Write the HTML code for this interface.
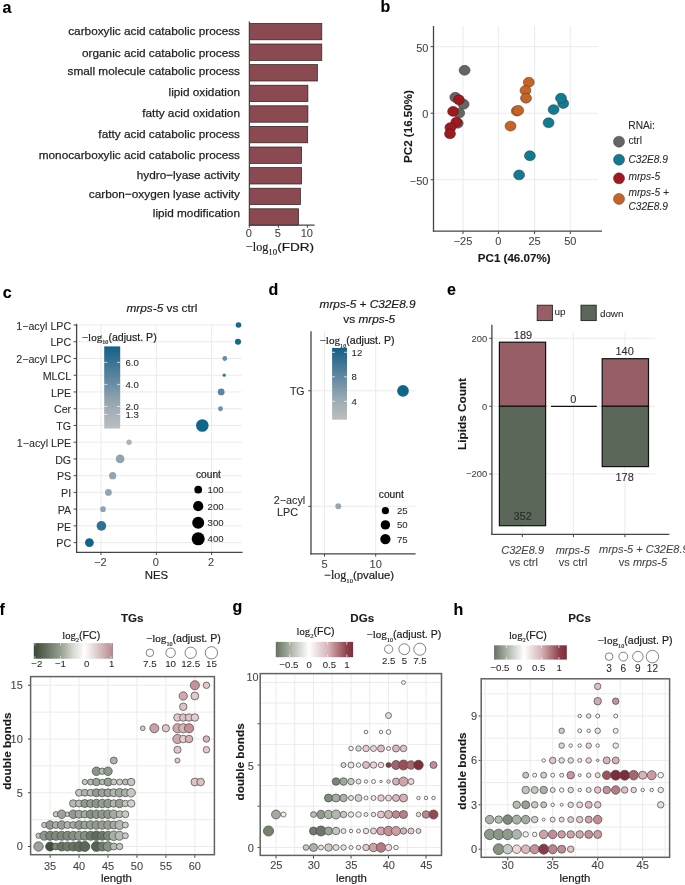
<!DOCTYPE html>
<html><head><meta charset="utf-8"><title>Figure</title>
<style>html,body{margin:0;padding:0;background:#fff;}body{width:685px;height:885px;overflow:hidden;}
svg{display:block;font-family:"Liberation Sans",sans-serif;will-change:transform;}</style></head>
<body><svg width="685" height="885" viewBox="0 0 685 885">
<rect x="0" y="0" width="685" height="885" fill="#ffffff"/>
<text x="2.60" y="13.00" font-size="16" fill="#000000" stroke="#000000" stroke-width="0.12" font-weight="bold">a</text>
<text x="380.60" y="12.40" font-size="16" fill="#000000" stroke="#000000" stroke-width="0.12" font-weight="bold">b</text>
<text x="2.70" y="298.00" font-size="16" fill="#000000" stroke="#000000" stroke-width="0.12" font-weight="bold">c</text>
<text x="268.60" y="294.80" font-size="16" fill="#000000" stroke="#000000" stroke-width="0.12" font-weight="bold">d</text>
<text x="447.00" y="295.10" font-size="16" fill="#000000" stroke="#000000" stroke-width="0.12" font-weight="bold">e</text>
<text x="-0.60" y="614.90" font-size="16" fill="#000000" stroke="#000000" stroke-width="0.12" font-weight="bold">f</text>
<text x="232.40" y="611.70" font-size="16" fill="#000000" stroke="#000000" stroke-width="0.12" font-weight="bold">g</text>
<text x="453.40" y="614.90" font-size="16" fill="#000000" stroke="#000000" stroke-width="0.12" font-weight="bold">h</text>
<text x="240.00" y="35.00" font-size="11.8" fill="#1e1e1e" stroke="#1e1e1e" stroke-width="0.25" text-anchor="end">carboxylic acid catabolic process</text>
<text x="240.00" y="57.30" font-size="11.8" fill="#1e1e1e" stroke="#1e1e1e" stroke-width="0.25" text-anchor="end">organic acid catabolic process</text>
<text x="240.00" y="75.10" font-size="11.8" fill="#1e1e1e" stroke="#1e1e1e" stroke-width="0.25" text-anchor="end">small molecule catabolic process</text>
<text x="240.00" y="95.70" font-size="11.8" fill="#1e1e1e" stroke="#1e1e1e" stroke-width="0.25" text-anchor="end">lipid oxidation</text>
<text x="240.00" y="117.10" font-size="11.8" fill="#1e1e1e" stroke="#1e1e1e" stroke-width="0.25" text-anchor="end">fatty acid oxidation</text>
<text x="240.00" y="138.40" font-size="11.8" fill="#1e1e1e" stroke="#1e1e1e" stroke-width="0.25" text-anchor="end">fatty acid catabolic process</text>
<text x="240.00" y="159.20" font-size="11.8" fill="#1e1e1e" stroke="#1e1e1e" stroke-width="0.25" text-anchor="end">monocarboxylic acid catabolic process</text>
<text x="240.00" y="178.60" font-size="11.8" fill="#1e1e1e" stroke="#1e1e1e" stroke-width="0.25" text-anchor="end">hydro−lyase activity</text>
<text x="240.00" y="197.50" font-size="11.8" fill="#1e1e1e" stroke="#1e1e1e" stroke-width="0.25" text-anchor="end">carbon−oxygen lyase activity</text>
<text x="240.00" y="217.20" font-size="11.8" fill="#1e1e1e" stroke="#1e1e1e" stroke-width="0.25" text-anchor="end">lipid modification</text>
<rect x="249.60" y="23.40" width="72.20" height="16.40" fill="#8b4a51" stroke="#2e1a1c" stroke-width="0.7"/>
<rect x="249.60" y="44.00" width="72.20" height="16.40" fill="#8b4a51" stroke="#2e1a1c" stroke-width="0.7"/>
<rect x="249.60" y="64.60" width="67.80" height="16.40" fill="#8b4a51" stroke="#2e1a1c" stroke-width="0.7"/>
<rect x="249.60" y="85.20" width="58.30" height="16.40" fill="#8b4a51" stroke="#2e1a1c" stroke-width="0.7"/>
<rect x="249.60" y="105.80" width="58.30" height="16.40" fill="#8b4a51" stroke="#2e1a1c" stroke-width="0.7"/>
<rect x="249.60" y="126.40" width="58.10" height="16.40" fill="#8b4a51" stroke="#2e1a1c" stroke-width="0.7"/>
<rect x="249.60" y="147.00" width="52.00" height="16.40" fill="#8b4a51" stroke="#2e1a1c" stroke-width="0.7"/>
<rect x="249.60" y="167.60" width="52.00" height="16.40" fill="#8b4a51" stroke="#2e1a1c" stroke-width="0.7"/>
<rect x="249.60" y="188.20" width="50.80" height="16.40" fill="#8b4a51" stroke="#2e1a1c" stroke-width="0.7"/>
<rect x="249.60" y="208.80" width="49.00" height="16.40" fill="#8b4a51" stroke="#2e1a1c" stroke-width="0.7"/>
<line x1="249.40" y1="21.50" x2="249.40" y2="225.70" stroke="#454545" stroke-width="1.3"/>
<line x1="248.80" y1="225.10" x2="314.60" y2="225.10" stroke="#454545" stroke-width="1.3"/>
<line x1="249.40" y1="225.10" x2="249.40" y2="227.80" stroke="#454545" stroke-width="1.0"/>
<text x="248.80" y="237.40" font-size="11" fill="#444444" stroke="#444444" stroke-width="0.08" text-anchor="middle">0</text>
<line x1="278.40" y1="225.10" x2="278.40" y2="227.80" stroke="#454545" stroke-width="1.0"/>
<text x="277.80" y="237.40" font-size="11" fill="#444444" stroke="#444444" stroke-width="0.08" text-anchor="middle">5</text>
<line x1="307.40" y1="225.10" x2="307.40" y2="227.80" stroke="#454545" stroke-width="1.0"/>
<text x="306.80" y="237.40" font-size="11" fill="#444444" stroke="#444444" stroke-width="0.08" text-anchor="middle">10</text>
<text x="245.90" y="250.80" font-size="11.0" fill="#1a1a1a" stroke="#1a1a1a" stroke-width="0.18"><tspan font-family="Liberation Serif" font-size="12.20">−log</tspan><tspan font-family="Liberation Serif" font-size="8.80" dy="3.90">10</tspan><tspan dy="-3.90" textLength="37.0" lengthAdjust="spacingAndGlyphs">(FDR)</tspan></text>
<line x1="434.00" y1="46.65" x2="598.10" y2="46.65" stroke="#ebebeb" stroke-width="1.0"/>
<line x1="434.00" y1="113.20" x2="598.10" y2="113.20" stroke="#ebebeb" stroke-width="1.0"/>
<line x1="434.00" y1="179.75" x2="598.10" y2="179.75" stroke="#ebebeb" stroke-width="1.0"/>
<line x1="463.00" y1="26.00" x2="463.00" y2="230.40" stroke="#ebebeb" stroke-width="1.0"/>
<line x1="498.40" y1="26.00" x2="498.40" y2="230.40" stroke="#ebebeb" stroke-width="1.0"/>
<line x1="534.60" y1="26.00" x2="534.60" y2="230.40" stroke="#ebebeb" stroke-width="1.0"/>
<line x1="570.30" y1="26.00" x2="570.30" y2="230.40" stroke="#ebebeb" stroke-width="1.0"/>
<line x1="433.50" y1="26.00" x2="433.50" y2="231.80" stroke="#454545" stroke-width="1.3"/>
<line x1="432.90" y1="231.20" x2="602.00" y2="231.20" stroke="#454545" stroke-width="1.3"/>
<line x1="430.60" y1="46.65" x2="433.40" y2="46.65" stroke="#454545" stroke-width="1.0"/>
<text x="428.40" y="51.55" font-size="11" fill="#444444" stroke="#444444" stroke-width="0.08" text-anchor="end">50</text>
<line x1="430.60" y1="113.20" x2="433.40" y2="113.20" stroke="#454545" stroke-width="1.0"/>
<text x="428.40" y="118.10" font-size="11" fill="#444444" stroke="#444444" stroke-width="0.08" text-anchor="end">0</text>
<line x1="430.60" y1="179.75" x2="433.40" y2="179.75" stroke="#454545" stroke-width="1.0"/>
<text x="428.40" y="184.65" font-size="11" fill="#444444" stroke="#444444" stroke-width="0.08" text-anchor="end">−50</text>
<line x1="463.00" y1="231.20" x2="463.00" y2="234.00" stroke="#454545" stroke-width="1.0"/>
<text x="463.00" y="244.70" font-size="11" fill="#444444" stroke="#444444" stroke-width="0.08" text-anchor="middle">−25</text>
<line x1="498.40" y1="231.20" x2="498.40" y2="234.00" stroke="#454545" stroke-width="1.0"/>
<text x="498.40" y="244.70" font-size="11" fill="#444444" stroke="#444444" stroke-width="0.08" text-anchor="middle">0</text>
<line x1="534.60" y1="231.20" x2="534.60" y2="234.00" stroke="#454545" stroke-width="1.0"/>
<text x="534.60" y="244.70" font-size="11" fill="#444444" stroke="#444444" stroke-width="0.08" text-anchor="middle">25</text>
<line x1="570.30" y1="231.20" x2="570.30" y2="234.00" stroke="#454545" stroke-width="1.0"/>
<text x="570.30" y="244.70" font-size="11" fill="#444444" stroke="#444444" stroke-width="0.08" text-anchor="middle">50</text>
<text x="514.20" y="261.90" font-size="11.6" fill="#1a1a1a" stroke="#1a1a1a" stroke-width="0.12" text-anchor="middle" font-weight="bold">PC1 (46.07%)</text>
<text x="412.30" y="126.50" font-size="11.6" fill="#1a1a1a" stroke="#1a1a1a" stroke-width="0.12" text-anchor="middle" font-weight="bold" transform="rotate(-90 412.30 126.50)">PC2 (16.50%)</text>
<ellipse cx="464.60" cy="70.30" rx="5.45" ry="4.95" fill="#646664" stroke="#3a3a3a" stroke-width="0.55"/>
<ellipse cx="455.30" cy="97.30" rx="5.45" ry="4.95" fill="#646664" stroke="#3a3a3a" stroke-width="0.55"/>
<ellipse cx="463.60" cy="104.30" rx="5.45" ry="4.95" fill="#646664" stroke="#3a3a3a" stroke-width="0.55"/>
<ellipse cx="459.20" cy="113.10" rx="5.45" ry="4.95" fill="#646664" stroke="#3a3a3a" stroke-width="0.55"/>
<ellipse cx="457.70" cy="123.30" rx="5.45" ry="4.95" fill="#646664" stroke="#3a3a3a" stroke-width="0.55"/>
<ellipse cx="458.90" cy="99.80" rx="5.45" ry="4.95" fill="#a0191f" stroke="#4a1a1c" stroke-width="0.55"/>
<ellipse cx="453.10" cy="111.40" rx="5.45" ry="4.95" fill="#a0191f" stroke="#4a1a1c" stroke-width="0.55"/>
<ellipse cx="456.30" cy="122.20" rx="5.45" ry="4.95" fill="#a0191f" stroke="#4a1a1c" stroke-width="0.55"/>
<ellipse cx="450.40" cy="127.60" rx="5.45" ry="4.95" fill="#a0191f" stroke="#4a1a1c" stroke-width="0.55"/>
<ellipse cx="450.00" cy="133.80" rx="5.45" ry="4.95" fill="#a0191f" stroke="#4a1a1c" stroke-width="0.55"/>
<ellipse cx="528.80" cy="82.30" rx="5.45" ry="4.95" fill="#c46426" stroke="#5a3a28" stroke-width="0.55"/>
<ellipse cx="525.50" cy="90.40" rx="5.45" ry="4.95" fill="#c46426" stroke="#5a3a28" stroke-width="0.55"/>
<ellipse cx="526.00" cy="98.20" rx="5.45" ry="4.95" fill="#c46426" stroke="#5a3a28" stroke-width="0.55"/>
<ellipse cx="516.80" cy="111.10" rx="5.45" ry="4.95" fill="#c46426" stroke="#5a3a28" stroke-width="0.55"/>
<ellipse cx="518.20" cy="110.40" rx="5.45" ry="4.95" fill="#c46426" stroke="#5a3a28" stroke-width="0.55"/>
<ellipse cx="510.50" cy="126.10" rx="5.45" ry="4.95" fill="#c46426" stroke="#5a3a28" stroke-width="0.55"/>
<ellipse cx="563.20" cy="103.50" rx="5.45" ry="4.95" fill="#137a94" stroke="#2e3f44" stroke-width="0.55"/>
<ellipse cx="561.00" cy="98.20" rx="5.45" ry="4.95" fill="#137a94" stroke="#2e3f44" stroke-width="0.55"/>
<ellipse cx="553.60" cy="109.60" rx="5.45" ry="4.95" fill="#137a94" stroke="#2e3f44" stroke-width="0.55"/>
<ellipse cx="548.60" cy="122.80" rx="5.45" ry="4.95" fill="#137a94" stroke="#2e3f44" stroke-width="0.55"/>
<ellipse cx="529.90" cy="155.80" rx="5.45" ry="4.95" fill="#137a94" stroke="#2e3f44" stroke-width="0.55"/>
<ellipse cx="519.10" cy="174.90" rx="5.45" ry="4.95" fill="#137a94" stroke="#2e3f44" stroke-width="0.55"/>
<text x="628.30" y="128.90" font-size="10.2" fill="#2a2a2a" stroke="#2a2a2a" stroke-width="0.08">RNAi:</text>
<circle cx="619.00" cy="141.70" r="5.50" fill="#646664" stroke="#3a3a3a" stroke-width="0.5"/>
<circle cx="619.00" cy="159.70" r="5.50" fill="#137a94" stroke="#2e3f44" stroke-width="0.5"/>
<circle cx="619.00" cy="178.30" r="5.50" fill="#a0191f" stroke="#4a1a1c" stroke-width="0.5"/>
<circle cx="619.00" cy="198.90" r="5.50" fill="#c46426" stroke="#5a3a28" stroke-width="0.5"/>
<text x="628.40" y="143.80" font-size="10.2" fill="#2a2a2a" stroke="#2a2a2a" stroke-width="0.08">ctrl</text>
<text x="628.40" y="162.60" font-size="10.2" fill="#2a2a2a" stroke="#2a2a2a" stroke-width="0.08" font-style="italic">C32E8.9</text>
<text x="628.40" y="180.20" font-size="10.2" fill="#2a2a2a" stroke="#2a2a2a" stroke-width="0.08" font-style="italic">mrps-5</text>
<text x="628.40" y="196.40" font-size="10.2" fill="#2a2a2a" stroke="#2a2a2a" stroke-width="0.08" font-style="italic">mrps-5 +</text>
<text x="628.40" y="209.70" font-size="10.2" fill="#2a2a2a" stroke="#2a2a2a" stroke-width="0.08" font-style="italic">C32E8.9</text>
<line x1="77.00" y1="325.00" x2="241.80" y2="325.00" stroke="#ebebeb" stroke-width="1.0"/>
<line x1="77.00" y1="341.74" x2="241.80" y2="341.74" stroke="#ebebeb" stroke-width="1.0"/>
<line x1="77.00" y1="358.48" x2="241.80" y2="358.48" stroke="#ebebeb" stroke-width="1.0"/>
<line x1="77.00" y1="375.22" x2="241.80" y2="375.22" stroke="#ebebeb" stroke-width="1.0"/>
<line x1="77.00" y1="391.96" x2="241.80" y2="391.96" stroke="#ebebeb" stroke-width="1.0"/>
<line x1="77.00" y1="408.70" x2="241.80" y2="408.70" stroke="#ebebeb" stroke-width="1.0"/>
<line x1="77.00" y1="425.44" x2="241.80" y2="425.44" stroke="#ebebeb" stroke-width="1.0"/>
<line x1="77.00" y1="442.18" x2="241.80" y2="442.18" stroke="#ebebeb" stroke-width="1.0"/>
<line x1="77.00" y1="458.92" x2="241.80" y2="458.92" stroke="#ebebeb" stroke-width="1.0"/>
<line x1="77.00" y1="475.66" x2="241.80" y2="475.66" stroke="#ebebeb" stroke-width="1.0"/>
<line x1="77.00" y1="492.40" x2="241.80" y2="492.40" stroke="#ebebeb" stroke-width="1.0"/>
<line x1="77.00" y1="509.14" x2="241.80" y2="509.14" stroke="#ebebeb" stroke-width="1.0"/>
<line x1="77.00" y1="525.88" x2="241.80" y2="525.88" stroke="#ebebeb" stroke-width="1.0"/>
<line x1="77.00" y1="542.62" x2="241.80" y2="542.62" stroke="#ebebeb" stroke-width="1.0"/>
<line x1="101.00" y1="323.80" x2="101.00" y2="551.60" stroke="#ebebeb" stroke-width="1.0"/>
<line x1="156.40" y1="323.80" x2="156.40" y2="551.60" stroke="#ebebeb" stroke-width="1.0"/>
<line x1="211.60" y1="323.80" x2="211.60" y2="551.60" stroke="#ebebeb" stroke-width="1.0"/>
<line x1="76.60" y1="323.80" x2="76.60" y2="552.90" stroke="#454545" stroke-width="1.3"/>
<line x1="76.00" y1="552.30" x2="242.50" y2="552.30" stroke="#454545" stroke-width="1.3"/>
<line x1="73.60" y1="325.00" x2="76.40" y2="325.00" stroke="#454545" stroke-width="1.0"/>
<text x="71.20" y="329.70" font-size="10.7" fill="#2a2a2a" stroke="#2a2a2a" stroke-width="0.08" text-anchor="end">1−acyl LPC</text>
<line x1="73.60" y1="341.74" x2="76.40" y2="341.74" stroke="#454545" stroke-width="1.0"/>
<text x="71.20" y="346.44" font-size="10.7" fill="#2a2a2a" stroke="#2a2a2a" stroke-width="0.08" text-anchor="end">LPC</text>
<line x1="73.60" y1="358.48" x2="76.40" y2="358.48" stroke="#454545" stroke-width="1.0"/>
<text x="71.20" y="363.18" font-size="10.7" fill="#2a2a2a" stroke="#2a2a2a" stroke-width="0.08" text-anchor="end">2−acyl LPC</text>
<line x1="73.60" y1="375.22" x2="76.40" y2="375.22" stroke="#454545" stroke-width="1.0"/>
<text x="71.20" y="379.92" font-size="10.7" fill="#2a2a2a" stroke="#2a2a2a" stroke-width="0.08" text-anchor="end">MLCL</text>
<line x1="73.60" y1="391.96" x2="76.40" y2="391.96" stroke="#454545" stroke-width="1.0"/>
<text x="71.20" y="396.66" font-size="10.7" fill="#2a2a2a" stroke="#2a2a2a" stroke-width="0.08" text-anchor="end">LPE</text>
<line x1="73.60" y1="408.70" x2="76.40" y2="408.70" stroke="#454545" stroke-width="1.0"/>
<text x="71.20" y="413.40" font-size="10.7" fill="#2a2a2a" stroke="#2a2a2a" stroke-width="0.08" text-anchor="end">Cer</text>
<line x1="73.60" y1="425.44" x2="76.40" y2="425.44" stroke="#454545" stroke-width="1.0"/>
<text x="71.20" y="430.14" font-size="10.7" fill="#2a2a2a" stroke="#2a2a2a" stroke-width="0.08" text-anchor="end">TG</text>
<line x1="73.60" y1="442.18" x2="76.40" y2="442.18" stroke="#454545" stroke-width="1.0"/>
<text x="71.20" y="446.88" font-size="10.7" fill="#2a2a2a" stroke="#2a2a2a" stroke-width="0.08" text-anchor="end">1−acyl LPE</text>
<line x1="73.60" y1="458.92" x2="76.40" y2="458.92" stroke="#454545" stroke-width="1.0"/>
<text x="71.20" y="463.62" font-size="10.7" fill="#2a2a2a" stroke="#2a2a2a" stroke-width="0.08" text-anchor="end">DG</text>
<line x1="73.60" y1="475.66" x2="76.40" y2="475.66" stroke="#454545" stroke-width="1.0"/>
<text x="71.20" y="480.36" font-size="10.7" fill="#2a2a2a" stroke="#2a2a2a" stroke-width="0.08" text-anchor="end">PS</text>
<line x1="73.60" y1="492.40" x2="76.40" y2="492.40" stroke="#454545" stroke-width="1.0"/>
<text x="71.20" y="497.10" font-size="10.7" fill="#2a2a2a" stroke="#2a2a2a" stroke-width="0.08" text-anchor="end">PI</text>
<line x1="73.60" y1="509.14" x2="76.40" y2="509.14" stroke="#454545" stroke-width="1.0"/>
<text x="71.20" y="513.84" font-size="10.7" fill="#2a2a2a" stroke="#2a2a2a" stroke-width="0.08" text-anchor="end">PA</text>
<line x1="73.60" y1="525.88" x2="76.40" y2="525.88" stroke="#454545" stroke-width="1.0"/>
<text x="71.20" y="530.58" font-size="10.7" fill="#2a2a2a" stroke="#2a2a2a" stroke-width="0.08" text-anchor="end">PE</text>
<line x1="73.60" y1="542.62" x2="76.40" y2="542.62" stroke="#454545" stroke-width="1.0"/>
<text x="71.20" y="547.32" font-size="10.7" fill="#2a2a2a" stroke="#2a2a2a" stroke-width="0.08" text-anchor="end">PC</text>
<line x1="101.00" y1="552.20" x2="101.00" y2="555.00" stroke="#454545" stroke-width="1.0"/>
<text x="100.40" y="566.10" font-size="11" fill="#444444" stroke="#444444" stroke-width="0.08" text-anchor="middle">−2</text>
<line x1="156.40" y1="552.20" x2="156.40" y2="555.00" stroke="#454545" stroke-width="1.0"/>
<text x="155.80" y="566.10" font-size="11" fill="#444444" stroke="#444444" stroke-width="0.08" text-anchor="middle">0</text>
<line x1="211.60" y1="552.20" x2="211.60" y2="555.00" stroke="#454545" stroke-width="1.0"/>
<text x="211.00" y="566.10" font-size="11" fill="#444444" stroke="#444444" stroke-width="0.08" text-anchor="middle">2</text>
<text x="156.40" y="579.30" font-size="11.4" fill="#1a1a1a" stroke="#1a1a1a" stroke-width="0.18" text-anchor="middle">NES</text>
<text x="161.9" y="311.8" font-size="11.8" fill="#1a1a1a" stroke="#1a1a1a" stroke-width="0.18" text-anchor="middle"><tspan font-style="italic">mrps-5</tspan> vs ctrl</text>
<circle cx="238.50" cy="325.00" r="2.80" fill="#16688c"/>
<circle cx="238.00" cy="341.74" r="3.05" fill="#16688c"/>
<circle cx="224.80" cy="358.48" r="2.40" fill="#658da6"/>
<circle cx="224.20" cy="375.22" r="1.65" fill="#367698"/>
<circle cx="221.20" cy="391.96" r="3.40" fill="#5886a3"/>
<circle cx="220.50" cy="408.70" r="2.45" fill="#6f92a8"/>
<circle cx="202.30" cy="425.44" r="6.30" fill="#10658a"/>
<circle cx="129.10" cy="442.18" r="2.70" fill="#adb4b9"/>
<circle cx="120.10" cy="458.92" r="4.35" fill="#93a4b1"/>
<circle cx="112.70" cy="475.66" r="3.60" fill="#93a4b1"/>
<circle cx="108.40" cy="492.40" r="3.40" fill="#93a4b1"/>
<circle cx="103.00" cy="509.14" r="2.85" fill="#90a3b0"/>
<circle cx="101.40" cy="525.88" r="4.80" fill="#2c7294"/>
<circle cx="89.40" cy="542.62" r="4.40" fill="#10658a"/>
<defs><linearGradient id="gc" x1="0" y1="1" x2="0" y2="0"><stop offset="0" stop-color="#bebebe"/><stop offset="0.3" stop-color="#98a8b2"/><stop offset="0.6" stop-color="#5f88a1"/><stop offset="1" stop-color="#155f85"/></linearGradient><linearGradient id="gd" x1="0" y1="1" x2="0" y2="0"><stop offset="0" stop-color="#bebebe"/><stop offset="0.3" stop-color="#98a8b2"/><stop offset="0.6" stop-color="#5f88a1"/><stop offset="1" stop-color="#155f85"/></linearGradient></defs>
<rect x="104.20" y="346.40" width="16.00" height="82.10" fill="url(#gc)"/>
<line x1="104.20" y1="362.40" x2="107.40" y2="362.40" stroke="#ffffff" stroke-width="0.7"/>
<line x1="117.00" y1="362.40" x2="120.20" y2="362.40" stroke="#ffffff" stroke-width="0.7"/>
<text x="125.40" y="365.80" font-size="9.6" fill="#2a2a2a" stroke="#2a2a2a" stroke-width="0.08">6.0</text>
<line x1="104.20" y1="384.40" x2="107.40" y2="384.40" stroke="#ffffff" stroke-width="0.7"/>
<line x1="117.00" y1="384.40" x2="120.20" y2="384.40" stroke="#ffffff" stroke-width="0.7"/>
<text x="125.40" y="387.80" font-size="9.6" fill="#2a2a2a" stroke="#2a2a2a" stroke-width="0.08">4.0</text>
<line x1="104.20" y1="406.50" x2="107.40" y2="406.50" stroke="#ffffff" stroke-width="0.7"/>
<line x1="117.00" y1="406.50" x2="120.20" y2="406.50" stroke="#ffffff" stroke-width="0.7"/>
<text x="125.40" y="409.90" font-size="9.6" fill="#2a2a2a" stroke="#2a2a2a" stroke-width="0.08">2.0</text>
<line x1="104.20" y1="414.40" x2="107.40" y2="414.40" stroke="#ffffff" stroke-width="0.7"/>
<line x1="117.00" y1="414.40" x2="120.20" y2="414.40" stroke="#ffffff" stroke-width="0.7"/>
<text x="125.40" y="417.80" font-size="9.6" fill="#2a2a2a" stroke="#2a2a2a" stroke-width="0.08">1.3</text>
<text x="81.80" y="340.50" font-size="10.6" fill="#1a1a1a" stroke="#1a1a1a" stroke-width="0.18"><tspan font-family="Liberation Serif" font-size="11.13">−log</tspan><tspan font-family="Liberation Serif" font-size="6.15" dy="3.50">10</tspan><tspan dy="-3.50">(adjust. P)</tspan></text>
<text x="196.00" y="477.80" font-size="10.2" fill="#1a1a1a" stroke="#1a1a1a" stroke-width="0.18">count</text>
<circle cx="198.20" cy="489.70" r="3.85" fill="#000000"/>
<text x="207.60" y="493.10" font-size="9.6" fill="#2a2a2a" stroke="#2a2a2a" stroke-width="0.08">100</text>
<circle cx="198.20" cy="506.20" r="5.10" fill="#000000"/>
<text x="207.60" y="509.60" font-size="9.6" fill="#2a2a2a" stroke="#2a2a2a" stroke-width="0.08">200</text>
<circle cx="198.20" cy="522.70" r="6.00" fill="#000000"/>
<text x="207.60" y="526.10" font-size="9.6" fill="#2a2a2a" stroke="#2a2a2a" stroke-width="0.08">300</text>
<circle cx="198.20" cy="538.80" r="6.55" fill="#000000"/>
<text x="207.60" y="542.20" font-size="9.6" fill="#2a2a2a" stroke="#2a2a2a" stroke-width="0.08">400</text>
<text x="367.6" y="308.4" font-size="11.8" fill="#1a1a1a" stroke="#1a1a1a" stroke-width="0.18" text-anchor="middle" font-style="italic">mrps-5 + C32E8.9</text>
<text x="369.2" y="322.9" font-size="11.8" fill="#1a1a1a" stroke="#1a1a1a" stroke-width="0.18" text-anchor="middle">vs <tspan font-style="italic">mrps-5</tspan></text>
<line x1="311.60" y1="390.80" x2="415.60" y2="390.80" stroke="#ebebeb" stroke-width="1.0"/>
<line x1="311.60" y1="506.30" x2="415.60" y2="506.30" stroke="#ebebeb" stroke-width="1.0"/>
<line x1="324.50" y1="331.30" x2="324.50" y2="553.20" stroke="#ebebeb" stroke-width="1.0"/>
<line x1="375.70" y1="331.30" x2="375.70" y2="553.20" stroke="#ebebeb" stroke-width="1.0"/>
<line x1="311.00" y1="331.30" x2="311.00" y2="554.50" stroke="#454545" stroke-width="1.3"/>
<line x1="310.40" y1="553.80" x2="415.60" y2="553.80" stroke="#454545" stroke-width="1.3"/>
<line x1="308.20" y1="390.80" x2="311.00" y2="390.80" stroke="#454545" stroke-width="1.0"/>
<line x1="308.20" y1="506.30" x2="311.00" y2="506.30" stroke="#454545" stroke-width="1.0"/>
<text x="304.60" y="394.60" font-size="10.6" fill="#2a2a2a" stroke="#2a2a2a" stroke-width="0.08" text-anchor="end">TG</text>
<text x="289.50" y="503.60" font-size="10.8" fill="#2a2a2a" stroke="#2a2a2a" stroke-width="0.08" text-anchor="middle">2−acyl</text>
<text x="287.60" y="516.10" font-size="10.8" fill="#2a2a2a" stroke="#2a2a2a" stroke-width="0.08" text-anchor="middle">LPC</text>
<line x1="324.50" y1="553.80" x2="324.50" y2="556.60" stroke="#454545" stroke-width="1.0"/>
<text x="324.50" y="567.90" font-size="11" fill="#444444" stroke="#444444" stroke-width="0.08" text-anchor="middle">5</text>
<line x1="375.70" y1="553.80" x2="375.70" y2="556.60" stroke="#454545" stroke-width="1.0"/>
<text x="375.70" y="567.90" font-size="11" fill="#444444" stroke="#444444" stroke-width="0.08" text-anchor="middle">10</text>
<text x="324.30" y="579.20" font-size="11.4" fill="#1a1a1a" stroke="#1a1a1a" stroke-width="0.18"><tspan font-family="Liberation Serif" font-size="11.97">−log</tspan><tspan font-family="Liberation Serif" font-size="6.61" dy="3.76">10</tspan><tspan dy="-3.76">(pvalue)</tspan></text>
<circle cx="403.00" cy="390.80" r="5.85" fill="#10658a"/>
<circle cx="338.30" cy="506.30" r="2.95" fill="#96a6b2"/>
<rect x="332.10" y="347.90" width="14.90" height="71.80" fill="url(#gd)"/>
<line x1="332.10" y1="352.30" x2="335.00" y2="352.30" stroke="#ffffff" stroke-width="0.7"/>
<line x1="344.10" y1="352.30" x2="347.00" y2="352.30" stroke="#ffffff" stroke-width="0.7"/>
<text x="351.60" y="355.70" font-size="9.6" fill="#2a2a2a" stroke="#2a2a2a" stroke-width="0.08">12</text>
<line x1="332.10" y1="376.80" x2="335.00" y2="376.80" stroke="#ffffff" stroke-width="0.7"/>
<line x1="344.10" y1="376.80" x2="347.00" y2="376.80" stroke="#ffffff" stroke-width="0.7"/>
<text x="351.60" y="380.20" font-size="9.6" fill="#2a2a2a" stroke="#2a2a2a" stroke-width="0.08">8</text>
<line x1="332.10" y1="401.30" x2="335.00" y2="401.30" stroke="#ffffff" stroke-width="0.7"/>
<line x1="344.10" y1="401.30" x2="347.00" y2="401.30" stroke="#ffffff" stroke-width="0.7"/>
<text x="351.60" y="404.70" font-size="9.6" fill="#2a2a2a" stroke="#2a2a2a" stroke-width="0.08">4</text>
<text x="319.60" y="344.00" font-size="10.6" fill="#1a1a1a" stroke="#1a1a1a" stroke-width="0.18"><tspan font-family="Liberation Serif" font-size="11.13">−log</tspan><tspan font-family="Liberation Serif" font-size="6.15" dy="3.50">10</tspan><tspan dy="-3.50">(adjust. P)</tspan></text>
<text x="378.80" y="497.50" font-size="10.2" fill="#1a1a1a" stroke="#1a1a1a" stroke-width="0.18">count</text>
<circle cx="385.40" cy="510.70" r="3.60" fill="#000000"/>
<text x="397.00" y="514.10" font-size="9.6" fill="#2a2a2a" stroke="#2a2a2a" stroke-width="0.08">25</text>
<circle cx="385.40" cy="524.90" r="4.70" fill="#000000"/>
<text x="397.00" y="528.30" font-size="9.6" fill="#2a2a2a" stroke="#2a2a2a" stroke-width="0.08">50</text>
<circle cx="385.40" cy="539.10" r="5.15" fill="#000000"/>
<text x="397.00" y="542.50" font-size="9.6" fill="#2a2a2a" stroke="#2a2a2a" stroke-width="0.08">75</text>
<rect x="537.20" y="305.20" width="15.20" height="15.40" fill="#975f65" stroke="#222" stroke-width="0.9"/>
<rect x="581.00" y="305.20" width="15.20" height="15.40" fill="#5b6859" stroke="#222" stroke-width="0.9"/>
<text x="554.60" y="315.00" font-size="9.9" fill="#2a2a2a" stroke="#2a2a2a" stroke-width="0.08">up</text>
<text x="599.90" y="316.90" font-size="9.9" fill="#2a2a2a" stroke="#2a2a2a" stroke-width="0.08">down</text>
<line x1="492.60" y1="338.30" x2="655.00" y2="338.30" stroke="#ebebeb" stroke-width="1.0"/>
<line x1="492.60" y1="406.30" x2="655.00" y2="406.30" stroke="#ebebeb" stroke-width="1.0"/>
<line x1="492.60" y1="474.00" x2="655.00" y2="474.00" stroke="#ebebeb" stroke-width="1.0"/>
<line x1="522.30" y1="332.40" x2="522.30" y2="533.80" stroke="#ebebeb" stroke-width="1.0"/>
<line x1="573.40" y1="332.40" x2="573.40" y2="533.80" stroke="#ebebeb" stroke-width="1.0"/>
<line x1="624.90" y1="332.40" x2="624.90" y2="533.80" stroke="#ebebeb" stroke-width="1.0"/>
<line x1="491.90" y1="324.70" x2="491.90" y2="535.00" stroke="#454545" stroke-width="1.3"/>
<line x1="491.30" y1="534.40" x2="669.30" y2="534.40" stroke="#454545" stroke-width="1.3"/>
<line x1="489.30" y1="338.30" x2="492.10" y2="338.30" stroke="#454545" stroke-width="1.0"/>
<text x="487.20" y="341.70" font-size="9.4" fill="#444444" stroke="#444444" stroke-width="0.08" text-anchor="end">200</text>
<line x1="489.30" y1="406.30" x2="492.10" y2="406.30" stroke="#454545" stroke-width="1.0"/>
<text x="487.20" y="409.70" font-size="9.4" fill="#444444" stroke="#444444" stroke-width="0.08" text-anchor="end">0</text>
<line x1="489.30" y1="474.00" x2="492.10" y2="474.00" stroke="#454545" stroke-width="1.0"/>
<text x="487.20" y="477.40" font-size="9.4" fill="#444444" stroke="#444444" stroke-width="0.08" text-anchor="end">−200</text>
<line x1="522.30" y1="534.30" x2="522.30" y2="537.10" stroke="#454545" stroke-width="1.0"/>
<line x1="573.40" y1="534.30" x2="573.40" y2="537.10" stroke="#454545" stroke-width="1.0"/>
<line x1="624.90" y1="534.30" x2="624.90" y2="537.10" stroke="#454545" stroke-width="1.0"/>
<rect x="499.40" y="342.20" width="46.20" height="64.10" fill="#975f65" stroke="#111" stroke-width="1.2"/>
<rect x="499.40" y="406.30" width="46.20" height="119.40" fill="#5b6859" stroke="#111" stroke-width="1.2"/>
<line x1="551.00" y1="406.30" x2="596.80" y2="406.30" stroke="#111" stroke-width="1.3"/>
<rect x="602.20" y="358.70" width="46.30" height="47.60" fill="#975f65" stroke="#111" stroke-width="1.2"/>
<rect x="602.20" y="406.30" width="46.30" height="60.30" fill="#5b6859" stroke="#111" stroke-width="1.2"/>
<text x="523.00" y="338.70" font-size="11" fill="#2a2a2a" stroke="#2a2a2a" stroke-width="0.08" text-anchor="middle">189</text>
<text x="573.40" y="402.80" font-size="11" fill="#2a2a2a" stroke="#2a2a2a" stroke-width="0.08" text-anchor="middle">0</text>
<text x="624.60" y="354.80" font-size="11" fill="#2a2a2a" stroke="#2a2a2a" stroke-width="0.08" text-anchor="middle">140</text>
<text x="624.60" y="480.70" font-size="11" fill="#2a2a2a" stroke="#2a2a2a" stroke-width="0.08" text-anchor="middle">178</text>
<text x="522.60" y="519.60" font-size="11" fill="#2a2a2a" stroke="#2a2a2a" stroke-width="0.08" text-anchor="middle">352</text>
<text x="522.60" y="554.00" font-size="11" fill="#444444" stroke="#444444" stroke-width="0.08" text-anchor="middle" font-style="italic">C32E8.9</text>
<text x="523.50" y="566.30" font-size="11" fill="#444444" stroke="#444444" stroke-width="0.08" text-anchor="middle">vs ctrl</text>
<text x="572.80" y="554.00" font-size="11" fill="#444444" stroke="#444444" stroke-width="0.08" text-anchor="middle" font-style="italic">mrps-5</text>
<text x="573.00" y="566.30" font-size="11" fill="#444444" stroke="#444444" stroke-width="0.08" text-anchor="middle">vs ctrl</text>
<text x="599.00" y="553.00" font-size="11" fill="#444444" stroke="#444444" stroke-width="0.08" font-style="italic">mrps-5 + C32E8.9</text>
<text x="643.0" y="566.3" font-size="11" fill="#444444" stroke="#444444" stroke-width="0.08" text-anchor="middle">vs <tspan font-style="italic">mrps-5</tspan></text>
<text x="465.90" y="414.00" font-size="11.8" fill="#1a1a1a" stroke="#1a1a1a" stroke-width="0.12" text-anchor="middle" font-weight="bold" transform="rotate(-90 465.90 414.00)">Lipids Count</text>
<line x1="31.30" y1="846.50" x2="213.90" y2="846.50" stroke="#ebebeb" stroke-width="1.0"/>
<line x1="31.30" y1="819.62" x2="213.90" y2="819.62" stroke="#ebebeb" stroke-width="1.0"/>
<line x1="31.30" y1="792.75" x2="213.90" y2="792.75" stroke="#ebebeb" stroke-width="1.0"/>
<line x1="31.30" y1="765.88" x2="213.90" y2="765.88" stroke="#ebebeb" stroke-width="1.0"/>
<line x1="31.30" y1="739.00" x2="213.90" y2="739.00" stroke="#ebebeb" stroke-width="1.0"/>
<line x1="31.30" y1="712.12" x2="213.90" y2="712.12" stroke="#ebebeb" stroke-width="1.0"/>
<line x1="31.30" y1="685.25" x2="213.90" y2="685.25" stroke="#ebebeb" stroke-width="1.0"/>
<line x1="50.10" y1="677.30" x2="50.10" y2="854.00" stroke="#ebebeb" stroke-width="1.0"/>
<line x1="79.05" y1="677.30" x2="79.05" y2="854.00" stroke="#ebebeb" stroke-width="1.0"/>
<line x1="108.00" y1="677.30" x2="108.00" y2="854.00" stroke="#ebebeb" stroke-width="1.0"/>
<line x1="136.95" y1="677.30" x2="136.95" y2="854.00" stroke="#ebebeb" stroke-width="1.0"/>
<line x1="165.90" y1="677.30" x2="165.90" y2="854.00" stroke="#ebebeb" stroke-width="1.0"/>
<line x1="194.85" y1="677.30" x2="194.85" y2="854.00" stroke="#ebebeb" stroke-width="1.0"/>
<circle cx="38.52" cy="846.50" r="4.70" fill="#9ba698" stroke="#4d4d4d" stroke-width="0.75"/>
<circle cx="50.10" cy="846.50" r="4.50" fill="#3f4f3e" stroke="#4d4d4d" stroke-width="0.75"/>
<circle cx="55.89" cy="846.50" r="3.50" fill="#7a8677" stroke="#4d4d4d" stroke-width="0.75"/>
<circle cx="61.68" cy="846.50" r="4.50" fill="#66745f" stroke="#4d4d4d" stroke-width="0.75"/>
<circle cx="67.47" cy="846.50" r="4.50" fill="#6b7968" stroke="#4d4d4d" stroke-width="0.75"/>
<circle cx="73.26" cy="846.50" r="4.50" fill="#66745f" stroke="#4d4d4d" stroke-width="0.75"/>
<circle cx="79.05" cy="846.50" r="5.00" fill="#5f6d5c" stroke="#4d4d4d" stroke-width="0.75"/>
<circle cx="84.84" cy="846.50" r="5.00" fill="#5a6857" stroke="#4d4d4d" stroke-width="0.75"/>
<circle cx="96.42" cy="846.50" r="5.00" fill="#566453" stroke="#4d4d4d" stroke-width="0.75"/>
<circle cx="102.21" cy="846.50" r="4.50" fill="#6f7d6c" stroke="#4d4d4d" stroke-width="0.75"/>
<circle cx="108.00" cy="846.50" r="4.75" fill="#859182" stroke="#4d4d4d" stroke-width="0.75"/>
<circle cx="113.79" cy="846.50" r="3.50" fill="#b5bdb2" stroke="#4d4d4d" stroke-width="0.75"/>
<circle cx="119.58" cy="846.50" r="3.25" fill="#c1c8be" stroke="#4d4d4d" stroke-width="0.75"/>
<circle cx="38.52" cy="835.75" r="2.65" fill="#c2c8bf" stroke="#4d4d4d" stroke-width="0.75"/>
<circle cx="44.31" cy="835.75" r="4.50" fill="#8c988a" stroke="#4d4d4d" stroke-width="0.75"/>
<circle cx="50.10" cy="835.75" r="4.50" fill="#7a8677" stroke="#4d4d4d" stroke-width="0.75"/>
<circle cx="55.89" cy="835.75" r="4.50" fill="#7f8b7c" stroke="#4d4d4d" stroke-width="0.75"/>
<circle cx="61.68" cy="835.75" r="4.50" fill="#7c8879" stroke="#4d4d4d" stroke-width="0.75"/>
<circle cx="67.47" cy="835.75" r="4.50" fill="#7f8b7c" stroke="#4d4d4d" stroke-width="0.75"/>
<circle cx="73.26" cy="835.75" r="4.50" fill="#85917f" stroke="#4d4d4d" stroke-width="0.75"/>
<circle cx="79.05" cy="835.75" r="4.50" fill="#8d998a" stroke="#4d4d4d" stroke-width="0.75"/>
<circle cx="84.84" cy="835.75" r="4.50" fill="#838f80" stroke="#4d4d4d" stroke-width="0.75"/>
<circle cx="90.63" cy="835.75" r="4.50" fill="#6e7b6b" stroke="#4d4d4d" stroke-width="0.75"/>
<circle cx="96.42" cy="835.75" r="4.75" fill="#5e6c5b" stroke="#4d4d4d" stroke-width="0.75"/>
<circle cx="102.21" cy="835.75" r="4.50" fill="#6b7868" stroke="#4d4d4d" stroke-width="0.75"/>
<circle cx="108.00" cy="835.75" r="4.50" fill="#7b8778" stroke="#4d4d4d" stroke-width="0.75"/>
<circle cx="113.79" cy="835.75" r="4.75" fill="#a7b0a4" stroke="#4d4d4d" stroke-width="0.75"/>
<circle cx="119.58" cy="835.75" r="4.50" fill="#b4bcb1" stroke="#4d4d4d" stroke-width="0.75"/>
<circle cx="125.37" cy="835.75" r="3.00" fill="#c6ccc3" stroke="#4d4d4d" stroke-width="0.75"/>
<circle cx="44.31" cy="825.00" r="2.65" fill="#c4cac2" stroke="#4d4d4d" stroke-width="0.75"/>
<circle cx="50.10" cy="825.00" r="4.25" fill="#8e9a8b" stroke="#4d4d4d" stroke-width="0.75"/>
<circle cx="55.89" cy="825.00" r="3.50" fill="#a9b2a6" stroke="#4d4d4d" stroke-width="0.75"/>
<circle cx="61.68" cy="825.00" r="4.25" fill="#95a092" stroke="#4d4d4d" stroke-width="0.75"/>
<circle cx="67.47" cy="825.00" r="3.50" fill="#aeb7ab" stroke="#4d4d4d" stroke-width="0.75"/>
<circle cx="73.26" cy="825.00" r="3.50" fill="#a5afa2" stroke="#4d4d4d" stroke-width="0.75"/>
<circle cx="79.05" cy="825.00" r="4.25" fill="#8f9b8c" stroke="#4d4d4d" stroke-width="0.75"/>
<circle cx="84.84" cy="825.00" r="4.00" fill="#9aa597" stroke="#4d4d4d" stroke-width="0.75"/>
<circle cx="90.63" cy="825.00" r="4.25" fill="#95a092" stroke="#4d4d4d" stroke-width="0.75"/>
<circle cx="96.42" cy="825.00" r="4.25" fill="#8f9b8c" stroke="#4d4d4d" stroke-width="0.75"/>
<circle cx="102.21" cy="825.00" r="4.25" fill="#95a092" stroke="#4d4d4d" stroke-width="0.75"/>
<circle cx="108.00" cy="825.00" r="4.25" fill="#97a294" stroke="#4d4d4d" stroke-width="0.75"/>
<circle cx="113.79" cy="825.00" r="4.00" fill="#a3ad9f" stroke="#4d4d4d" stroke-width="0.75"/>
<circle cx="119.58" cy="825.00" r="4.50" fill="#b2baaf" stroke="#4d4d4d" stroke-width="0.75"/>
<circle cx="125.37" cy="825.00" r="3.00" fill="#c6ccc3" stroke="#4d4d4d" stroke-width="0.75"/>
<circle cx="55.89" cy="814.25" r="2.65" fill="#c8cec5" stroke="#4d4d4d" stroke-width="0.75"/>
<circle cx="61.68" cy="814.25" r="4.25" fill="#9aa597" stroke="#4d4d4d" stroke-width="0.75"/>
<circle cx="67.47" cy="814.25" r="2.25" fill="#c5cbc3" stroke="#4d4d4d" stroke-width="0.75"/>
<circle cx="73.26" cy="814.25" r="4.25" fill="#8f9b8c" stroke="#4d4d4d" stroke-width="0.75"/>
<circle cx="79.05" cy="814.25" r="4.00" fill="#9ea99b" stroke="#4d4d4d" stroke-width="0.75"/>
<circle cx="84.84" cy="814.25" r="3.75" fill="#a3ad9f" stroke="#4d4d4d" stroke-width="0.75"/>
<circle cx="90.63" cy="814.25" r="4.25" fill="#86927f" stroke="#4d4d4d" stroke-width="0.75"/>
<circle cx="96.42" cy="814.25" r="4.25" fill="#8a9687" stroke="#4d4d4d" stroke-width="0.75"/>
<circle cx="102.21" cy="814.25" r="4.25" fill="#8e9a8b" stroke="#4d4d4d" stroke-width="0.75"/>
<circle cx="108.00" cy="814.25" r="4.25" fill="#8d998a" stroke="#4d4d4d" stroke-width="0.75"/>
<circle cx="113.79" cy="814.25" r="4.25" fill="#a3ad9f" stroke="#4d4d4d" stroke-width="0.75"/>
<circle cx="119.58" cy="814.25" r="3.50" fill="#b3bbb0" stroke="#4d4d4d" stroke-width="0.75"/>
<circle cx="125.37" cy="814.25" r="3.50" fill="#c6ccc3" stroke="#4d4d4d" stroke-width="0.75"/>
<circle cx="73.26" cy="803.50" r="3.75" fill="#b3bbb0" stroke="#4d4d4d" stroke-width="0.75"/>
<circle cx="79.05" cy="803.50" r="3.50" fill="#b5bdb2" stroke="#4d4d4d" stroke-width="0.75"/>
<circle cx="84.84" cy="803.50" r="4.00" fill="#8e9a8b" stroke="#4d4d4d" stroke-width="0.75"/>
<circle cx="90.63" cy="803.50" r="4.00" fill="#919d8e" stroke="#4d4d4d" stroke-width="0.75"/>
<circle cx="96.42" cy="803.50" r="4.25" fill="#8a9687" stroke="#4d4d4d" stroke-width="0.75"/>
<circle cx="102.21" cy="803.50" r="4.25" fill="#919d8e" stroke="#4d4d4d" stroke-width="0.75"/>
<circle cx="108.00" cy="803.50" r="4.25" fill="#8f9b8c" stroke="#4d4d4d" stroke-width="0.75"/>
<circle cx="113.79" cy="803.50" r="3.75" fill="#afb8ac" stroke="#4d4d4d" stroke-width="0.75"/>
<circle cx="119.58" cy="803.50" r="4.25" fill="#95a092" stroke="#4d4d4d" stroke-width="0.75"/>
<circle cx="125.37" cy="803.50" r="3.25" fill="#c0c7bd" stroke="#4d4d4d" stroke-width="0.75"/>
<circle cx="131.16" cy="803.50" r="3.75" fill="#cdd2ca" stroke="#4d4d4d" stroke-width="0.75"/>
<circle cx="79.05" cy="792.75" r="3.50" fill="#c0c7bd" stroke="#4d4d4d" stroke-width="0.75"/>
<circle cx="84.84" cy="792.75" r="3.50" fill="#abb4a8" stroke="#4d4d4d" stroke-width="0.75"/>
<circle cx="90.63" cy="792.75" r="3.50" fill="#b2baaf" stroke="#4d4d4d" stroke-width="0.75"/>
<circle cx="96.42" cy="792.75" r="4.00" fill="#8f9b8c" stroke="#4d4d4d" stroke-width="0.75"/>
<circle cx="102.21" cy="792.75" r="4.00" fill="#99a496" stroke="#4d4d4d" stroke-width="0.75"/>
<circle cx="108.00" cy="792.75" r="4.00" fill="#9aa597" stroke="#4d4d4d" stroke-width="0.75"/>
<circle cx="113.79" cy="792.75" r="4.00" fill="#adb6aa" stroke="#4d4d4d" stroke-width="0.75"/>
<circle cx="119.58" cy="792.75" r="4.25" fill="#9ea99b" stroke="#4d4d4d" stroke-width="0.75"/>
<circle cx="125.37" cy="792.75" r="4.00" fill="#a9b2a6" stroke="#4d4d4d" stroke-width="0.75"/>
<circle cx="131.16" cy="792.75" r="4.25" fill="#c3c9c0" stroke="#4d4d4d" stroke-width="0.75"/>
<circle cx="84.84" cy="782.00" r="2.65" fill="#c3c9c0" stroke="#4d4d4d" stroke-width="0.75"/>
<circle cx="90.63" cy="782.00" r="3.00" fill="#b3bbb0" stroke="#4d4d4d" stroke-width="0.75"/>
<circle cx="96.42" cy="782.00" r="3.75" fill="#9aa597" stroke="#4d4d4d" stroke-width="0.75"/>
<circle cx="102.21" cy="782.00" r="2.75" fill="#b5bdb2" stroke="#4d4d4d" stroke-width="0.75"/>
<circle cx="108.00" cy="782.00" r="4.00" fill="#95a092" stroke="#4d4d4d" stroke-width="0.75"/>
<circle cx="113.79" cy="782.00" r="3.00" fill="#c1c8be" stroke="#4d4d4d" stroke-width="0.75"/>
<circle cx="119.58" cy="782.00" r="3.00" fill="#c8cec5" stroke="#4d4d4d" stroke-width="0.75"/>
<circle cx="125.37" cy="782.00" r="3.00" fill="#b3bbb0" stroke="#4d4d4d" stroke-width="0.75"/>
<circle cx="131.16" cy="782.00" r="3.75" fill="#c1c8be" stroke="#4d4d4d" stroke-width="0.75"/>
<circle cx="96.42" cy="771.25" r="4.25" fill="#8a9687" stroke="#4d4d4d" stroke-width="0.75"/>
<circle cx="102.21" cy="771.25" r="3.25" fill="#b2baaf" stroke="#4d4d4d" stroke-width="0.75"/>
<circle cx="108.00" cy="771.25" r="4.25" fill="#8d998a" stroke="#4d4d4d" stroke-width="0.75"/>
<circle cx="113.79" cy="760.50" r="3.50" fill="#a9b3a7" stroke="#4d4d4d" stroke-width="0.75"/>
<circle cx="194.85" cy="782.00" r="3.90" fill="#e0c3c6" stroke="#4d4d4d" stroke-width="0.75"/>
<circle cx="200.64" cy="782.00" r="3.80" fill="#ddbec1" stroke="#4d4d4d" stroke-width="0.75"/>
<circle cx="177.48" cy="760.50" r="2.50" fill="#e2c8ca" stroke="#4d4d4d" stroke-width="0.75"/>
<circle cx="177.48" cy="749.75" r="3.60" fill="#e0c3c6" stroke="#4d4d4d" stroke-width="0.75"/>
<circle cx="206.43" cy="749.75" r="3.25" fill="#e3cacc" stroke="#4d4d4d" stroke-width="0.75"/>
<circle cx="177.48" cy="739.00" r="4.60" fill="#d1a7ab" stroke="#4d4d4d" stroke-width="0.75"/>
<circle cx="183.27" cy="739.00" r="3.75" fill="#e5cdcf" stroke="#4d4d4d" stroke-width="0.75"/>
<circle cx="189.06" cy="739.00" r="3.75" fill="#d7b2b6" stroke="#4d4d4d" stroke-width="0.75"/>
<circle cx="206.43" cy="739.00" r="3.25" fill="#d9b6ba" stroke="#4d4d4d" stroke-width="0.75"/>
<circle cx="142.74" cy="728.25" r="2.35" fill="#e2c8ca" stroke="#4d4d4d" stroke-width="0.75"/>
<circle cx="154.32" cy="728.25" r="4.50" fill="#cc9fa3" stroke="#4d4d4d" stroke-width="0.75"/>
<circle cx="165.90" cy="728.25" r="3.65" fill="#e2c8ca" stroke="#4d4d4d" stroke-width="0.75"/>
<circle cx="177.48" cy="728.25" r="4.60" fill="#d1a7ab" stroke="#4d4d4d" stroke-width="0.75"/>
<circle cx="183.27" cy="728.25" r="4.60" fill="#d8b3b7" stroke="#4d4d4d" stroke-width="0.75"/>
<circle cx="189.06" cy="728.25" r="4.60" fill="#c48f95" stroke="#4d4d4d" stroke-width="0.75"/>
<circle cx="177.48" cy="717.50" r="3.75" fill="#e2c8ca" stroke="#4d4d4d" stroke-width="0.75"/>
<circle cx="183.27" cy="717.50" r="3.75" fill="#dec0c3" stroke="#4d4d4d" stroke-width="0.75"/>
<circle cx="189.06" cy="717.50" r="3.75" fill="#e0c4c7" stroke="#4d4d4d" stroke-width="0.75"/>
<circle cx="194.85" cy="717.50" r="3.75" fill="#e5cdcf" stroke="#4d4d4d" stroke-width="0.75"/>
<circle cx="183.27" cy="706.75" r="3.75" fill="#e0c3c6" stroke="#4d4d4d" stroke-width="0.75"/>
<circle cx="183.27" cy="696.00" r="4.15" fill="#d2a8ac" stroke="#4d4d4d" stroke-width="0.75"/>
<circle cx="194.85" cy="696.00" r="3.90" fill="#e3cacc" stroke="#4d4d4d" stroke-width="0.75"/>
<circle cx="194.85" cy="685.25" r="4.55" fill="#c49499" stroke="#4d4d4d" stroke-width="0.75"/>
<circle cx="206.43" cy="685.25" r="3.25" fill="#e2c6c8" stroke="#4d4d4d" stroke-width="0.75"/>
<rect x="30.60" y="676.60" width="183.80" height="178.10" fill="none" stroke="#626262" stroke-width="1.5"/>
<line x1="28.00" y1="846.50" x2="30.00" y2="846.50" stroke="#454545" stroke-width="1.0"/>
<text x="22.80" y="850.40" font-size="11" fill="#444444" stroke="#444444" stroke-width="0.08" text-anchor="end">0</text>
<line x1="28.00" y1="792.75" x2="30.00" y2="792.75" stroke="#454545" stroke-width="1.0"/>
<text x="22.80" y="796.65" font-size="11" fill="#444444" stroke="#444444" stroke-width="0.08" text-anchor="end">5</text>
<line x1="28.00" y1="739.00" x2="30.00" y2="739.00" stroke="#454545" stroke-width="1.0"/>
<text x="22.80" y="742.90" font-size="11" fill="#444444" stroke="#444444" stroke-width="0.08" text-anchor="end">10</text>
<line x1="28.00" y1="685.25" x2="30.00" y2="685.25" stroke="#454545" stroke-width="1.0"/>
<text x="22.80" y="689.15" font-size="11" fill="#444444" stroke="#444444" stroke-width="0.08" text-anchor="end">15</text>
<line x1="50.10" y1="855.30" x2="50.10" y2="857.80" stroke="#454545" stroke-width="1.0"/>
<text x="50.10" y="870.00" font-size="11" fill="#444444" stroke="#444444" stroke-width="0.08" text-anchor="middle">35</text>
<line x1="79.05" y1="855.30" x2="79.05" y2="857.80" stroke="#454545" stroke-width="1.0"/>
<text x="79.05" y="870.00" font-size="11" fill="#444444" stroke="#444444" stroke-width="0.08" text-anchor="middle">40</text>
<line x1="108.00" y1="855.30" x2="108.00" y2="857.80" stroke="#454545" stroke-width="1.0"/>
<text x="108.00" y="870.00" font-size="11" fill="#444444" stroke="#444444" stroke-width="0.08" text-anchor="middle">45</text>
<line x1="136.95" y1="855.30" x2="136.95" y2="857.80" stroke="#454545" stroke-width="1.0"/>
<text x="136.95" y="870.00" font-size="11" fill="#444444" stroke="#444444" stroke-width="0.08" text-anchor="middle">50</text>
<line x1="165.90" y1="855.30" x2="165.90" y2="857.80" stroke="#454545" stroke-width="1.0"/>
<text x="165.90" y="870.00" font-size="11" fill="#444444" stroke="#444444" stroke-width="0.08" text-anchor="middle">55</text>
<line x1="194.85" y1="855.30" x2="194.85" y2="857.80" stroke="#454545" stroke-width="1.0"/>
<text x="194.85" y="870.00" font-size="11" fill="#444444" stroke="#444444" stroke-width="0.08" text-anchor="middle">60</text>
<text x="116.40" y="882.40" font-size="11.4" fill="#1a1a1a" stroke="#1a1a1a" stroke-width="0.18" text-anchor="middle">length</text>
<text x="10.60" y="751.20" font-size="11.8" fill="#1a1a1a" stroke="#1a1a1a" stroke-width="0.12" text-anchor="middle" font-weight="bold" transform="rotate(-90 10.60 751.20)">double bonds</text>
<text x="132.30" y="622.20" font-size="11.6" fill="#1a1a1a" stroke="#1a1a1a" stroke-width="0.12" text-anchor="middle" font-weight="bold">TGs</text>
<defs><linearGradient id="gf" x1="0" y1="0" x2="1" y2="0"><stop offset="0.0000" stop-color="#3d4a3b"/><stop offset="0.0400" stop-color="#45513f"/><stop offset="0.3400" stop-color="#96a092"/><stop offset="0.5000" stop-color="#d6dad3"/><stop offset="0.6400" stop-color="#ffffff"/><stop offset="1.0000" stop-color="#b5878b"/></linearGradient></defs>
<rect x="33.80" y="643.10" width="79.20" height="15.60" fill="url(#gf)"/>
<line x1="35.00" y1="643.10" x2="35.00" y2="645.80" stroke="#e8e8e8" stroke-width="0.6"/>
<line x1="35.00" y1="656.00" x2="35.00" y2="658.70" stroke="#e8e8e8" stroke-width="0.6"/>
<line x1="60.50" y1="643.10" x2="60.50" y2="645.80" stroke="#e8e8e8" stroke-width="0.6"/>
<line x1="60.50" y1="656.00" x2="60.50" y2="658.70" stroke="#e8e8e8" stroke-width="0.6"/>
<line x1="86.00" y1="643.10" x2="86.00" y2="645.80" stroke="#e8e8e8" stroke-width="0.6"/>
<line x1="86.00" y1="656.00" x2="86.00" y2="658.70" stroke="#e8e8e8" stroke-width="0.6"/>
<line x1="111.00" y1="643.10" x2="111.00" y2="645.80" stroke="#e8e8e8" stroke-width="0.6"/>
<line x1="111.00" y1="656.00" x2="111.00" y2="658.70" stroke="#e8e8e8" stroke-width="0.6"/>
<text x="36.80" y="667.40" font-size="9.6" fill="#2a2a2a" stroke="#2a2a2a" stroke-width="0.08" text-anchor="middle">−2</text>
<text x="60.40" y="667.40" font-size="9.6" fill="#2a2a2a" stroke="#2a2a2a" stroke-width="0.08" text-anchor="middle">−1</text>
<text x="86.70" y="667.40" font-size="9.6" fill="#2a2a2a" stroke="#2a2a2a" stroke-width="0.08" text-anchor="middle">0</text>
<text x="111.60" y="667.40" font-size="9.6" fill="#2a2a2a" stroke="#2a2a2a" stroke-width="0.08" text-anchor="middle">1</text>
<text x="62.20" y="639.00" font-size="10.6" fill="#1a1a1a" stroke="#1a1a1a" stroke-width="0.18"><tspan font-family="Liberation Serif">log</tspan><tspan font-family="Liberation Serif" font-size="6.57" dy="2.97">2</tspan><tspan dy="-2.97">(FC)</tspan></text>
<text x="145.90" y="642.10" font-size="10.6" fill="#1a1a1a" stroke="#1a1a1a" stroke-width="0.18"><tspan font-family="Liberation Serif" font-size="11.13">−log</tspan><tspan font-family="Liberation Serif" font-size="6.15" dy="3.50">10</tspan><tspan dy="-3.50">(adjust. P)</tspan></text>
<circle cx="149.90" cy="652.80" r="3.80" fill="#ffffff" stroke="#4d4d4d" stroke-width="0.7"/>
<text x="149.90" y="667.20" font-size="9.8" fill="#2a2a2a" stroke="#2a2a2a" stroke-width="0.08" text-anchor="middle">7.5</text>
<circle cx="170.60" cy="652.80" r="4.75" fill="#ffffff" stroke="#4d4d4d" stroke-width="0.7"/>
<text x="170.60" y="667.20" font-size="9.8" fill="#2a2a2a" stroke="#2a2a2a" stroke-width="0.08" text-anchor="middle">10</text>
<circle cx="190.70" cy="652.80" r="5.70" fill="#ffffff" stroke="#4d4d4d" stroke-width="0.7"/>
<text x="190.70" y="667.20" font-size="9.8" fill="#2a2a2a" stroke="#2a2a2a" stroke-width="0.08" text-anchor="middle">12.5</text>
<circle cx="211.40" cy="652.80" r="6.15" fill="#ffffff" stroke="#4d4d4d" stroke-width="0.7"/>
<text x="211.40" y="667.20" font-size="9.8" fill="#2a2a2a" stroke="#2a2a2a" stroke-width="0.08" text-anchor="middle">15</text>
<line x1="260.90" y1="847.50" x2="440.80" y2="847.50" stroke="#ebebeb" stroke-width="1.0"/>
<line x1="260.90" y1="826.88" x2="440.80" y2="826.88" stroke="#ebebeb" stroke-width="1.0"/>
<line x1="260.90" y1="806.25" x2="440.80" y2="806.25" stroke="#ebebeb" stroke-width="1.0"/>
<line x1="260.90" y1="785.62" x2="440.80" y2="785.62" stroke="#ebebeb" stroke-width="1.0"/>
<line x1="260.90" y1="765.00" x2="440.80" y2="765.00" stroke="#ebebeb" stroke-width="1.0"/>
<line x1="260.90" y1="744.38" x2="440.80" y2="744.38" stroke="#ebebeb" stroke-width="1.0"/>
<line x1="260.90" y1="723.75" x2="440.80" y2="723.75" stroke="#ebebeb" stroke-width="1.0"/>
<line x1="260.90" y1="703.12" x2="440.80" y2="703.12" stroke="#ebebeb" stroke-width="1.0"/>
<line x1="260.90" y1="682.50" x2="440.80" y2="682.50" stroke="#ebebeb" stroke-width="1.0"/>
<line x1="276.00" y1="674.30" x2="276.00" y2="854.70" stroke="#ebebeb" stroke-width="1.0"/>
<line x1="294.75" y1="674.30" x2="294.75" y2="854.70" stroke="#ebebeb" stroke-width="1.0"/>
<line x1="313.50" y1="674.30" x2="313.50" y2="854.70" stroke="#ebebeb" stroke-width="1.0"/>
<line x1="332.25" y1="674.30" x2="332.25" y2="854.70" stroke="#ebebeb" stroke-width="1.0"/>
<line x1="351.00" y1="674.30" x2="351.00" y2="854.70" stroke="#ebebeb" stroke-width="1.0"/>
<line x1="369.75" y1="674.30" x2="369.75" y2="854.70" stroke="#ebebeb" stroke-width="1.0"/>
<line x1="388.50" y1="674.30" x2="388.50" y2="854.70" stroke="#ebebeb" stroke-width="1.0"/>
<line x1="407.25" y1="674.30" x2="407.25" y2="854.70" stroke="#ebebeb" stroke-width="1.0"/>
<line x1="426.00" y1="674.30" x2="426.00" y2="854.70" stroke="#ebebeb" stroke-width="1.0"/>
<circle cx="306.00" cy="847.50" r="2.85" fill="#c5cbc2" stroke="#4d4d4d" stroke-width="0.75"/>
<circle cx="313.50" cy="847.50" r="4.00" fill="#a9b3a6" stroke="#4d4d4d" stroke-width="0.75"/>
<circle cx="321.00" cy="847.50" r="2.50" fill="#eee0e2" stroke="#4d4d4d" stroke-width="0.75"/>
<circle cx="328.50" cy="847.50" r="3.75" fill="#c5ccc2" stroke="#4d4d4d" stroke-width="0.75"/>
<circle cx="336.00" cy="847.50" r="3.00" fill="#dde1db" stroke="#4d4d4d" stroke-width="0.75"/>
<circle cx="343.50" cy="847.50" r="2.75" fill="#eedcdf" stroke="#4d4d4d" stroke-width="0.75"/>
<circle cx="351.00" cy="847.50" r="2.00" fill="#f6f6f5" stroke="#4d4d4d" stroke-width="0.75"/>
<circle cx="358.50" cy="847.50" r="2.25" fill="#f2e6e8" stroke="#4d4d4d" stroke-width="0.75"/>
<circle cx="366.00" cy="847.50" r="3.25" fill="#e5c9cc" stroke="#4d4d4d" stroke-width="0.75"/>
<circle cx="373.50" cy="847.50" r="4.25" fill="#cfa0a5" stroke="#4d4d4d" stroke-width="0.75"/>
<circle cx="381.00" cy="847.50" r="4.75" fill="#b57a80" stroke="#4d4d4d" stroke-width="0.75"/>
<circle cx="388.50" cy="847.50" r="3.25" fill="#eedadc" stroke="#4d4d4d" stroke-width="0.75"/>
<circle cx="396.00" cy="847.50" r="2.25" fill="#f6f2f2" stroke="#4d4d4d" stroke-width="0.75"/>
<circle cx="268.50" cy="831.00" r="5.05" fill="#758270" stroke="#4d4d4d" stroke-width="0.75"/>
<circle cx="313.50" cy="831.00" r="4.00" fill="#6e7b6b" stroke="#4d4d4d" stroke-width="0.75"/>
<circle cx="321.00" cy="831.00" r="5.00" fill="#6a7767" stroke="#4d4d4d" stroke-width="0.75"/>
<circle cx="328.50" cy="831.00" r="4.00" fill="#99a595" stroke="#4d4d4d" stroke-width="0.75"/>
<circle cx="336.00" cy="831.00" r="3.75" fill="#c2c8bf" stroke="#4d4d4d" stroke-width="0.75"/>
<circle cx="343.50" cy="831.00" r="2.50" fill="#e5e8e3" stroke="#4d4d4d" stroke-width="0.75"/>
<circle cx="351.00" cy="831.00" r="1.75" fill="#f8f8f8" stroke="#4d4d4d" stroke-width="0.75"/>
<circle cx="358.50" cy="831.00" r="2.00" fill="#f8f6f6" stroke="#4d4d4d" stroke-width="0.75"/>
<circle cx="366.00" cy="831.00" r="2.75" fill="#f1e1e3" stroke="#4d4d4d" stroke-width="0.75"/>
<circle cx="373.50" cy="831.00" r="3.00" fill="#e8d0d3" stroke="#4d4d4d" stroke-width="0.75"/>
<circle cx="381.00" cy="831.00" r="4.00" fill="#d3a6ab" stroke="#4d4d4d" stroke-width="0.75"/>
<circle cx="388.50" cy="831.00" r="4.75" fill="#c38e94" stroke="#4d4d4d" stroke-width="0.75"/>
<circle cx="396.00" cy="831.00" r="4.50" fill="#cd9da2" stroke="#4d4d4d" stroke-width="0.75"/>
<circle cx="403.50" cy="831.00" r="3.25" fill="#d8b0b4" stroke="#4d4d4d" stroke-width="0.75"/>
<circle cx="411.00" cy="831.00" r="3.00" fill="#e6cbce" stroke="#4d4d4d" stroke-width="0.75"/>
<circle cx="418.50" cy="831.00" r="2.50" fill="#ebd6d8" stroke="#4d4d4d" stroke-width="0.75"/>
<circle cx="276.00" cy="814.50" r="4.45" fill="#a3ac9f" stroke="#4d4d4d" stroke-width="0.75"/>
<circle cx="283.50" cy="814.50" r="2.55" fill="#f0f0ee" stroke="#4d4d4d" stroke-width="0.75"/>
<circle cx="313.50" cy="814.50" r="2.90" fill="#b8c0b5" stroke="#4d4d4d" stroke-width="0.75"/>
<circle cx="321.00" cy="814.50" r="4.25" fill="#8e9b8b" stroke="#4d4d4d" stroke-width="0.75"/>
<circle cx="328.50" cy="814.50" r="4.25" fill="#a8b2a5" stroke="#4d4d4d" stroke-width="0.75"/>
<circle cx="336.00" cy="814.50" r="4.50" fill="#b0b9ad" stroke="#4d4d4d" stroke-width="0.75"/>
<circle cx="343.50" cy="814.50" r="3.25" fill="#c5cbc3" stroke="#4d4d4d" stroke-width="0.75"/>
<circle cx="351.00" cy="814.50" r="2.75" fill="#e5e8e3" stroke="#4d4d4d" stroke-width="0.75"/>
<circle cx="358.50" cy="814.50" r="2.75" fill="#edefeb" stroke="#4d4d4d" stroke-width="0.75"/>
<circle cx="366.00" cy="814.50" r="2.00" fill="#f5eff0" stroke="#4d4d4d" stroke-width="0.75"/>
<circle cx="373.50" cy="814.50" r="2.25" fill="#f1e2e4" stroke="#4d4d4d" stroke-width="0.75"/>
<circle cx="381.00" cy="814.50" r="3.50" fill="#e3c5c9" stroke="#4d4d4d" stroke-width="0.75"/>
<circle cx="388.50" cy="814.50" r="4.00" fill="#d6afb3" stroke="#4d4d4d" stroke-width="0.75"/>
<circle cx="396.00" cy="814.50" r="3.75" fill="#c08a90" stroke="#4d4d4d" stroke-width="0.75"/>
<circle cx="403.50" cy="814.50" r="4.00" fill="#b87f86" stroke="#4d4d4d" stroke-width="0.75"/>
<circle cx="418.50" cy="814.50" r="2.25" fill="#eedcdf" stroke="#4d4d4d" stroke-width="0.75"/>
<circle cx="426.00" cy="814.50" r="3.75" fill="#bd868c" stroke="#4d4d4d" stroke-width="0.75"/>
<circle cx="433.50" cy="814.50" r="4.50" fill="#94474f" stroke="#4d4d4d" stroke-width="0.75"/>
<circle cx="328.50" cy="798.00" r="4.00" fill="#808c7d" stroke="#4d4d4d" stroke-width="0.75"/>
<circle cx="336.00" cy="798.00" r="4.00" fill="#a2ac9f" stroke="#4d4d4d" stroke-width="0.75"/>
<circle cx="343.50" cy="798.00" r="3.75" fill="#abb4a8" stroke="#4d4d4d" stroke-width="0.75"/>
<circle cx="351.00" cy="798.00" r="2.50" fill="#e2e5e0" stroke="#4d4d4d" stroke-width="0.75"/>
<circle cx="358.50" cy="798.00" r="3.50" fill="#cdd3ca" stroke="#4d4d4d" stroke-width="0.75"/>
<circle cx="366.00" cy="798.00" r="2.00" fill="#f6f6f5" stroke="#4d4d4d" stroke-width="0.75"/>
<circle cx="373.50" cy="798.00" r="2.50" fill="#f2e5e7" stroke="#4d4d4d" stroke-width="0.75"/>
<circle cx="381.00" cy="798.00" r="3.25" fill="#e6cdd0" stroke="#4d4d4d" stroke-width="0.75"/>
<circle cx="388.50" cy="798.00" r="3.00" fill="#ebd5d8" stroke="#4d4d4d" stroke-width="0.75"/>
<circle cx="396.00" cy="798.00" r="3.50" fill="#ddb8bc" stroke="#4d4d4d" stroke-width="0.75"/>
<circle cx="403.50" cy="798.00" r="4.00" fill="#d9b0b4" stroke="#4d4d4d" stroke-width="0.75"/>
<circle cx="418.50" cy="798.00" r="1.75" fill="#f8f8f8" stroke="#4d4d4d" stroke-width="0.75"/>
<circle cx="426.00" cy="798.00" r="1.75" fill="#f8f8f8" stroke="#4d4d4d" stroke-width="0.75"/>
<circle cx="433.50" cy="798.00" r="1.75" fill="#f8f8f8" stroke="#4d4d4d" stroke-width="0.75"/>
<circle cx="336.00" cy="781.50" r="3.75" fill="#7a8677" stroke="#4d4d4d" stroke-width="0.75"/>
<circle cx="343.50" cy="781.50" r="3.75" fill="#9ea89b" stroke="#4d4d4d" stroke-width="0.75"/>
<circle cx="351.00" cy="781.50" r="3.25" fill="#c3cac0" stroke="#4d4d4d" stroke-width="0.75"/>
<circle cx="358.50" cy="781.50" r="2.50" fill="#e0e3de" stroke="#4d4d4d" stroke-width="0.75"/>
<circle cx="366.00" cy="781.50" r="1.75" fill="#f8f8f8" stroke="#4d4d4d" stroke-width="0.75"/>
<circle cx="373.50" cy="781.50" r="2.00" fill="#f8f8f8" stroke="#4d4d4d" stroke-width="0.75"/>
<circle cx="381.00" cy="781.50" r="1.25" fill="#f8f8f8" stroke="#4d4d4d" stroke-width="0.75"/>
<circle cx="388.50" cy="781.50" r="1.75" fill="#eedcde" stroke="#4d4d4d" stroke-width="0.75"/>
<circle cx="396.00" cy="781.50" r="3.50" fill="#d6afb3" stroke="#4d4d4d" stroke-width="0.75"/>
<circle cx="403.50" cy="781.50" r="4.50" fill="#d0a3a8" stroke="#4d4d4d" stroke-width="0.75"/>
<circle cx="411.00" cy="781.50" r="3.00" fill="#ebd4d7" stroke="#4d4d4d" stroke-width="0.75"/>
<circle cx="343.50" cy="765.00" r="2.50" fill="#d7dbd5" stroke="#4d4d4d" stroke-width="0.75"/>
<circle cx="351.00" cy="765.00" r="3.00" fill="#e3e6e1" stroke="#4d4d4d" stroke-width="0.75"/>
<circle cx="358.50" cy="765.00" r="2.25" fill="#f8f8f8" stroke="#4d4d4d" stroke-width="0.75"/>
<circle cx="366.00" cy="765.00" r="3.50" fill="#ddbbbf" stroke="#4d4d4d" stroke-width="0.75"/>
<circle cx="373.50" cy="765.00" r="3.25" fill="#e8d0d3" stroke="#4d4d4d" stroke-width="0.75"/>
<circle cx="381.00" cy="765.00" r="2.75" fill="#eedde0" stroke="#4d4d4d" stroke-width="0.75"/>
<circle cx="388.50" cy="765.00" r="2.50" fill="#8b3845" stroke="#4d4d4d" stroke-width="0.75"/>
<circle cx="396.00" cy="765.00" r="4.50" fill="#a5606a" stroke="#4d4d4d" stroke-width="0.75"/>
<circle cx="403.50" cy="765.00" r="5.00" fill="#9a4e58" stroke="#4d4d4d" stroke-width="0.75"/>
<circle cx="411.00" cy="765.00" r="4.25" fill="#a9646d" stroke="#4d4d4d" stroke-width="0.75"/>
<circle cx="418.50" cy="765.00" r="4.75" fill="#7e2f3a" stroke="#4d4d4d" stroke-width="0.75"/>
<circle cx="433.50" cy="765.00" r="3.50" fill="#c08e93" stroke="#4d4d4d" stroke-width="0.75"/>
<circle cx="351.00" cy="748.50" r="2.25" fill="#f2f2f0" stroke="#4d4d4d" stroke-width="0.75"/>
<circle cx="358.50" cy="748.50" r="2.75" fill="#d5dad3" stroke="#4d4d4d" stroke-width="0.75"/>
<circle cx="366.00" cy="748.50" r="3.25" fill="#e6cccf" stroke="#4d4d4d" stroke-width="0.75"/>
<circle cx="373.50" cy="748.50" r="3.00" fill="#ebd5d7" stroke="#4d4d4d" stroke-width="0.75"/>
<circle cx="381.00" cy="748.50" r="3.50" fill="#ddbbbf" stroke="#4d4d4d" stroke-width="0.75"/>
<circle cx="388.50" cy="748.50" r="2.00" fill="#f5eeef" stroke="#4d4d4d" stroke-width="0.75"/>
<circle cx="396.00" cy="748.50" r="3.50" fill="#dcb6ba" stroke="#4d4d4d" stroke-width="0.75"/>
<circle cx="403.50" cy="748.50" r="3.25" fill="#e2c3c6" stroke="#4d4d4d" stroke-width="0.75"/>
<circle cx="366.00" cy="732.00" r="1.85" fill="#f8f8f8" stroke="#4d4d4d" stroke-width="0.75"/>
<circle cx="381.00" cy="732.00" r="1.75" fill="#f8f8f8" stroke="#4d4d4d" stroke-width="0.75"/>
<circle cx="388.50" cy="732.00" r="2.35" fill="#f6f6f6" stroke="#4d4d4d" stroke-width="0.75"/>
<circle cx="388.50" cy="715.50" r="3.00" fill="#d9dcd7" stroke="#4d4d4d" stroke-width="0.75"/>
<circle cx="403.50" cy="682.50" r="1.95" fill="#fafafa" stroke="#4d4d4d" stroke-width="0.75"/>
<rect x="260.20" y="673.60" width="181.30" height="181.80" fill="none" stroke="#626262" stroke-width="1.5"/>
<line x1="257.60" y1="847.50" x2="259.60" y2="847.50" stroke="#454545" stroke-width="1.0"/>
<line x1="257.60" y1="806.25" x2="259.60" y2="806.25" stroke="#454545" stroke-width="1.0"/>
<line x1="257.60" y1="765.00" x2="259.60" y2="765.00" stroke="#454545" stroke-width="1.0"/>
<line x1="257.60" y1="723.75" x2="259.60" y2="723.75" stroke="#454545" stroke-width="1.0"/>
<text x="258.40" y="680.50" font-size="10.8" fill="#444444" stroke="#444444" stroke-width="0.08" text-anchor="end">10</text>
<text x="253.90" y="769.90" font-size="11" fill="#444444" stroke="#444444" stroke-width="0.08" text-anchor="end">5</text>
<text x="253.90" y="852.00" font-size="11" fill="#444444" stroke="#444444" stroke-width="0.08" text-anchor="end">0</text>
<line x1="276.00" y1="856.00" x2="276.00" y2="858.50" stroke="#454545" stroke-width="1.0"/>
<text x="276.30" y="869.20" font-size="11" fill="#444444" stroke="#444444" stroke-width="0.08" text-anchor="middle">25</text>
<line x1="313.50" y1="856.00" x2="313.50" y2="858.50" stroke="#454545" stroke-width="1.0"/>
<text x="313.80" y="869.20" font-size="11" fill="#444444" stroke="#444444" stroke-width="0.08" text-anchor="middle">30</text>
<line x1="351.00" y1="856.00" x2="351.00" y2="858.50" stroke="#454545" stroke-width="1.0"/>
<text x="351.30" y="869.20" font-size="11" fill="#444444" stroke="#444444" stroke-width="0.08" text-anchor="middle">35</text>
<line x1="388.50" y1="856.00" x2="388.50" y2="858.50" stroke="#454545" stroke-width="1.0"/>
<text x="388.80" y="869.20" font-size="11" fill="#444444" stroke="#444444" stroke-width="0.08" text-anchor="middle">40</text>
<line x1="426.00" y1="856.00" x2="426.00" y2="858.50" stroke="#454545" stroke-width="1.0"/>
<text x="426.30" y="869.20" font-size="11" fill="#444444" stroke="#444444" stroke-width="0.08" text-anchor="middle">45</text>
<text x="351.40" y="882.00" font-size="11.4" fill="#1a1a1a" stroke="#1a1a1a" stroke-width="0.18" text-anchor="middle">length</text>
<text x="244.20" y="761.90" font-size="11.8" fill="#1a1a1a" stroke="#1a1a1a" stroke-width="0.12" text-anchor="middle" font-weight="bold" transform="rotate(-90 244.20 761.90)">double bonds</text>
<text x="362.20" y="622.20" font-size="11.6" fill="#1a1a1a" stroke="#1a1a1a" stroke-width="0.12" text-anchor="middle" font-weight="bold">DGs</text>
<defs><linearGradient id="gg" x1="0" y1="0" x2="1" y2="0"><stop offset="0.0000" stop-color="#66705f"/><stop offset="0.1800" stop-color="#aab1a6"/><stop offset="0.4300" stop-color="#ffffff"/><stop offset="0.6800" stop-color="#d6b3b7"/><stop offset="0.9200" stop-color="#8e3e4a"/><stop offset="1.0000" stop-color="#7d2f3b"/></linearGradient></defs>
<rect x="275.80" y="641.90" width="77.30" height="15.30" fill="url(#gg)"/>
<line x1="289.70" y1="641.90" x2="289.70" y2="644.60" stroke="#ffffff" stroke-width="0.7"/>
<line x1="289.70" y1="654.50" x2="289.70" y2="657.20" stroke="#ffffff" stroke-width="0.7"/>
<line x1="309.10" y1="641.90" x2="309.10" y2="644.60" stroke="#ffffff" stroke-width="0.7"/>
<line x1="309.10" y1="654.50" x2="309.10" y2="657.20" stroke="#ffffff" stroke-width="0.7"/>
<line x1="327.70" y1="641.90" x2="327.70" y2="644.60" stroke="#ffffff" stroke-width="0.7"/>
<line x1="327.70" y1="654.50" x2="327.70" y2="657.20" stroke="#ffffff" stroke-width="0.7"/>
<line x1="346.80" y1="641.90" x2="346.80" y2="644.60" stroke="#ffffff" stroke-width="0.7"/>
<line x1="346.80" y1="654.50" x2="346.80" y2="657.20" stroke="#ffffff" stroke-width="0.7"/>
<text x="289.00" y="668.00" font-size="9.6" fill="#2a2a2a" stroke="#2a2a2a" stroke-width="0.08" text-anchor="middle">−0.5</text>
<text x="309.10" y="668.00" font-size="9.6" fill="#2a2a2a" stroke="#2a2a2a" stroke-width="0.08" text-anchor="middle">0</text>
<text x="329.40" y="668.00" font-size="9.6" fill="#2a2a2a" stroke="#2a2a2a" stroke-width="0.08" text-anchor="middle">0.5</text>
<text x="346.80" y="668.00" font-size="9.6" fill="#2a2a2a" stroke="#2a2a2a" stroke-width="0.08" text-anchor="middle">1</text>
<text x="296.60" y="634.60" font-size="10.6" fill="#1a1a1a" stroke="#1a1a1a" stroke-width="0.18"><tspan font-family="Liberation Serif">log</tspan><tspan font-family="Liberation Serif" font-size="6.57" dy="2.97">2</tspan><tspan dy="-2.97">(FC)</tspan></text>
<text x="366.40" y="638.20" font-size="10.6" fill="#1a1a1a" stroke="#1a1a1a" stroke-width="0.18"><tspan font-family="Liberation Serif" font-size="11.13">−log</tspan><tspan font-family="Liberation Serif" font-size="6.15" dy="3.50">10</tspan><tspan dy="-3.50">(adjust. P)</tspan></text>
<circle cx="388.70" cy="649.20" r="4.15" fill="#ffffff" stroke="#4d4d4d" stroke-width="0.7"/>
<text x="388.70" y="664.00" font-size="9.6" fill="#2a2a2a" stroke="#2a2a2a" stroke-width="0.08" text-anchor="middle">2.5</text>
<circle cx="404.30" cy="649.20" r="5.45" fill="#ffffff" stroke="#4d4d4d" stroke-width="0.7"/>
<text x="404.30" y="664.00" font-size="9.6" fill="#2a2a2a" stroke="#2a2a2a" stroke-width="0.08" text-anchor="middle">5</text>
<circle cx="419.80" cy="649.20" r="6.05" fill="#ffffff" stroke="#4d4d4d" stroke-width="0.7"/>
<text x="419.80" y="664.00" font-size="9.6" fill="#2a2a2a" stroke="#2a2a2a" stroke-width="0.08" text-anchor="middle">7.5</text>
<line x1="481.90" y1="849.20" x2="668.90" y2="849.20" stroke="#ebebeb" stroke-width="1.0"/>
<line x1="481.90" y1="827.00" x2="668.90" y2="827.00" stroke="#ebebeb" stroke-width="1.0"/>
<line x1="481.90" y1="804.80" x2="668.90" y2="804.80" stroke="#ebebeb" stroke-width="1.0"/>
<line x1="481.90" y1="782.60" x2="668.90" y2="782.60" stroke="#ebebeb" stroke-width="1.0"/>
<line x1="481.90" y1="760.40" x2="668.90" y2="760.40" stroke="#ebebeb" stroke-width="1.0"/>
<line x1="481.90" y1="738.20" x2="668.90" y2="738.20" stroke="#ebebeb" stroke-width="1.0"/>
<line x1="481.90" y1="716.00" x2="668.90" y2="716.00" stroke="#ebebeb" stroke-width="1.0"/>
<line x1="481.90" y1="693.80" x2="668.90" y2="693.80" stroke="#ebebeb" stroke-width="1.0"/>
<line x1="485.20" y1="679.50" x2="485.20" y2="856.60" stroke="#ebebeb" stroke-width="1.0"/>
<line x1="507.70" y1="679.50" x2="507.70" y2="856.60" stroke="#ebebeb" stroke-width="1.0"/>
<line x1="530.20" y1="679.50" x2="530.20" y2="856.60" stroke="#ebebeb" stroke-width="1.0"/>
<line x1="552.70" y1="679.50" x2="552.70" y2="856.60" stroke="#ebebeb" stroke-width="1.0"/>
<line x1="575.20" y1="679.50" x2="575.20" y2="856.60" stroke="#ebebeb" stroke-width="1.0"/>
<line x1="597.70" y1="679.50" x2="597.70" y2="856.60" stroke="#ebebeb" stroke-width="1.0"/>
<line x1="620.20" y1="679.50" x2="620.20" y2="856.60" stroke="#ebebeb" stroke-width="1.0"/>
<line x1="642.70" y1="679.50" x2="642.70" y2="856.60" stroke="#ebebeb" stroke-width="1.0"/>
<line x1="665.20" y1="679.50" x2="665.20" y2="856.60" stroke="#ebebeb" stroke-width="1.0"/>
<circle cx="498.70" cy="849.20" r="5.40" fill="#87927f" stroke="#4d4d4d" stroke-width="0.75"/>
<circle cx="507.70" cy="849.20" r="4.75" fill="#c5cac2" stroke="#4d4d4d" stroke-width="0.75"/>
<circle cx="516.70" cy="849.20" r="4.25" fill="#eed8db" stroke="#4d4d4d" stroke-width="0.75"/>
<circle cx="525.70" cy="849.20" r="4.25" fill="#ddb8bc" stroke="#4d4d4d" stroke-width="0.75"/>
<circle cx="534.70" cy="849.20" r="4.50" fill="#c4929a" stroke="#4d4d4d" stroke-width="0.75"/>
<circle cx="543.70" cy="849.20" r="5.00" fill="#8b3a45" stroke="#4d4d4d" stroke-width="0.75"/>
<circle cx="552.70" cy="849.20" r="4.50" fill="#bb8389" stroke="#4d4d4d" stroke-width="0.75"/>
<circle cx="561.70" cy="849.20" r="4.00" fill="#c08d92" stroke="#4d4d4d" stroke-width="0.75"/>
<circle cx="570.70" cy="849.20" r="3.25" fill="#e1c2c5" stroke="#4d4d4d" stroke-width="0.75"/>
<circle cx="489.70" cy="834.40" r="5.25" fill="#8d998a" stroke="#4d4d4d" stroke-width="0.75"/>
<circle cx="498.70" cy="834.40" r="5.25" fill="#8a9687" stroke="#4d4d4d" stroke-width="0.75"/>
<circle cx="507.70" cy="834.40" r="5.25" fill="#8f9a8c" stroke="#4d4d4d" stroke-width="0.75"/>
<circle cx="516.70" cy="834.40" r="4.75" fill="#adb6aa" stroke="#4d4d4d" stroke-width="0.75"/>
<circle cx="525.70" cy="834.40" r="2.75" fill="#f4f4f2" stroke="#4d4d4d" stroke-width="0.75"/>
<circle cx="534.70" cy="834.40" r="2.25" fill="#f6f6f6" stroke="#4d4d4d" stroke-width="0.75"/>
<circle cx="543.70" cy="834.40" r="4.25" fill="#cfa1a7" stroke="#4d4d4d" stroke-width="0.75"/>
<circle cx="552.70" cy="834.40" r="4.25" fill="#c18c93" stroke="#4d4d4d" stroke-width="0.75"/>
<circle cx="561.70" cy="834.40" r="3.75" fill="#cd9da3" stroke="#4d4d4d" stroke-width="0.75"/>
<circle cx="570.70" cy="834.40" r="3.75" fill="#cfa3a8" stroke="#4d4d4d" stroke-width="0.75"/>
<circle cx="579.70" cy="834.40" r="3.75" fill="#d2a9ae" stroke="#4d4d4d" stroke-width="0.75"/>
<circle cx="588.70" cy="834.40" r="4.00" fill="#c4939a" stroke="#4d4d4d" stroke-width="0.75"/>
<circle cx="597.70" cy="834.40" r="4.00" fill="#cc9da3" stroke="#4d4d4d" stroke-width="0.75"/>
<circle cx="489.70" cy="819.60" r="4.25" fill="#aab3a7" stroke="#4d4d4d" stroke-width="0.75"/>
<circle cx="498.70" cy="819.60" r="3.75" fill="#b2bbaf" stroke="#4d4d4d" stroke-width="0.75"/>
<circle cx="507.70" cy="819.60" r="4.75" fill="#7e8a7b" stroke="#4d4d4d" stroke-width="0.75"/>
<circle cx="516.70" cy="819.60" r="4.50" fill="#a8b1a5" stroke="#4d4d4d" stroke-width="0.75"/>
<circle cx="525.70" cy="819.60" r="4.25" fill="#a2ac9f" stroke="#4d4d4d" stroke-width="0.75"/>
<circle cx="534.70" cy="819.60" r="3.25" fill="#ccd2ca" stroke="#4d4d4d" stroke-width="0.75"/>
<circle cx="543.70" cy="819.60" r="1.50" fill="#f8f8f8" stroke="#4d4d4d" stroke-width="0.75"/>
<circle cx="552.70" cy="819.60" r="2.50" fill="#f1dee1" stroke="#4d4d4d" stroke-width="0.75"/>
<circle cx="561.70" cy="819.60" r="2.50" fill="#edd5d8" stroke="#4d4d4d" stroke-width="0.75"/>
<circle cx="570.70" cy="819.60" r="3.00" fill="#e5c9cc" stroke="#4d4d4d" stroke-width="0.75"/>
<circle cx="579.70" cy="819.60" r="3.25" fill="#e4c7ca" stroke="#4d4d4d" stroke-width="0.75"/>
<circle cx="588.70" cy="819.60" r="3.50" fill="#d1a6ab" stroke="#4d4d4d" stroke-width="0.75"/>
<circle cx="597.70" cy="819.60" r="4.25" fill="#c18c93" stroke="#4d4d4d" stroke-width="0.75"/>
<circle cx="516.70" cy="804.80" r="3.75" fill="#b4bdb1" stroke="#4d4d4d" stroke-width="0.75"/>
<circle cx="525.70" cy="804.80" r="4.00" fill="#97a293" stroke="#4d4d4d" stroke-width="0.75"/>
<circle cx="534.70" cy="804.80" r="3.25" fill="#c5ccc2" stroke="#4d4d4d" stroke-width="0.75"/>
<circle cx="543.70" cy="804.80" r="3.00" fill="#bfc7bc" stroke="#4d4d4d" stroke-width="0.75"/>
<circle cx="552.70" cy="804.80" r="1.75" fill="#f8f8f8" stroke="#4d4d4d" stroke-width="0.75"/>
<circle cx="561.70" cy="804.80" r="1.50" fill="#f8f8f8" stroke="#4d4d4d" stroke-width="0.75"/>
<circle cx="570.70" cy="804.80" r="2.75" fill="#ead3d6" stroke="#4d4d4d" stroke-width="0.75"/>
<circle cx="579.70" cy="804.80" r="3.00" fill="#ecd6d9" stroke="#4d4d4d" stroke-width="0.75"/>
<circle cx="588.70" cy="804.80" r="3.50" fill="#dcb8bc" stroke="#4d4d4d" stroke-width="0.75"/>
<circle cx="597.70" cy="804.80" r="3.25" fill="#e5c8cb" stroke="#4d4d4d" stroke-width="0.75"/>
<circle cx="660.70" cy="804.80" r="3.25" fill="#daddd8" stroke="#4d4d4d" stroke-width="0.75"/>
<circle cx="525.70" cy="790.00" r="3.75" fill="#bfc7bc" stroke="#4d4d4d" stroke-width="0.75"/>
<circle cx="534.70" cy="790.00" r="3.50" fill="#c3cac0" stroke="#4d4d4d" stroke-width="0.75"/>
<circle cx="543.70" cy="790.00" r="3.75" fill="#a9b3a6" stroke="#4d4d4d" stroke-width="0.75"/>
<circle cx="552.70" cy="790.00" r="2.50" fill="#e0e3de" stroke="#4d4d4d" stroke-width="0.75"/>
<circle cx="561.70" cy="790.00" r="2.25" fill="#f8f8f8" stroke="#4d4d4d" stroke-width="0.75"/>
<circle cx="570.70" cy="790.00" r="2.75" fill="#eedbde" stroke="#4d4d4d" stroke-width="0.75"/>
<circle cx="579.70" cy="790.00" r="1.75" fill="#f8f8f8" stroke="#4d4d4d" stroke-width="0.75"/>
<circle cx="588.70" cy="790.00" r="2.50" fill="#f0e0e2" stroke="#4d4d4d" stroke-width="0.75"/>
<circle cx="597.70" cy="790.00" r="3.25" fill="#e3c5c8" stroke="#4d4d4d" stroke-width="0.75"/>
<circle cx="606.70" cy="790.00" r="3.75" fill="#c4929a" stroke="#4d4d4d" stroke-width="0.75"/>
<circle cx="615.70" cy="790.00" r="4.25" fill="#b57a82" stroke="#4d4d4d" stroke-width="0.75"/>
<circle cx="624.70" cy="790.00" r="3.25" fill="#e0c0c4" stroke="#4d4d4d" stroke-width="0.75"/>
<circle cx="633.70" cy="790.00" r="2.75" fill="#edd6d9" stroke="#4d4d4d" stroke-width="0.75"/>
<circle cx="642.70" cy="790.00" r="1.75" fill="#f8f8f8" stroke="#4d4d4d" stroke-width="0.75"/>
<circle cx="651.70" cy="790.00" r="1.75" fill="#f8f8f8" stroke="#4d4d4d" stroke-width="0.75"/>
<circle cx="660.70" cy="790.00" r="2.75" fill="#ebedea" stroke="#4d4d4d" stroke-width="0.75"/>
<circle cx="525.70" cy="775.20" r="3.00" fill="#c3cac0" stroke="#4d4d4d" stroke-width="0.75"/>
<circle cx="534.70" cy="775.20" r="2.00" fill="#f8f8f8" stroke="#4d4d4d" stroke-width="0.75"/>
<circle cx="543.70" cy="775.20" r="3.00" fill="#cdd2ca" stroke="#4d4d4d" stroke-width="0.75"/>
<circle cx="552.70" cy="775.20" r="2.00" fill="#f8f8f8" stroke="#4d4d4d" stroke-width="0.75"/>
<circle cx="561.70" cy="775.20" r="2.00" fill="#f4eced" stroke="#4d4d4d" stroke-width="0.75"/>
<circle cx="570.70" cy="775.20" r="3.75" fill="#c8969c" stroke="#4d4d4d" stroke-width="0.75"/>
<circle cx="579.70" cy="775.20" r="1.50" fill="#f8f8f8" stroke="#4d4d4d" stroke-width="0.75"/>
<circle cx="588.70" cy="775.20" r="2.25" fill="#f2e6e8" stroke="#4d4d4d" stroke-width="0.75"/>
<circle cx="597.70" cy="775.20" r="2.50" fill="#eedadd" stroke="#4d4d4d" stroke-width="0.75"/>
<circle cx="606.70" cy="775.20" r="4.25" fill="#9e535d" stroke="#4d4d4d" stroke-width="0.75"/>
<circle cx="615.70" cy="775.20" r="5.00" fill="#7f2c39" stroke="#4d4d4d" stroke-width="0.75"/>
<circle cx="624.70" cy="775.20" r="5.00" fill="#7f2c39" stroke="#4d4d4d" stroke-width="0.75"/>
<circle cx="633.70" cy="775.20" r="4.75" fill="#a9646d" stroke="#4d4d4d" stroke-width="0.75"/>
<circle cx="642.70" cy="775.20" r="4.00" fill="#d9b3b7" stroke="#4d4d4d" stroke-width="0.75"/>
<circle cx="651.70" cy="775.20" r="4.50" fill="#cb9aa0" stroke="#4d4d4d" stroke-width="0.75"/>
<circle cx="660.70" cy="775.20" r="2.75" fill="#f8f8f8" stroke="#4d4d4d" stroke-width="0.75"/>
<circle cx="543.70" cy="760.40" r="1.75" fill="#f8f8f8" stroke="#4d4d4d" stroke-width="0.75"/>
<circle cx="552.70" cy="760.40" r="3.25" fill="#e1c3c6" stroke="#4d4d4d" stroke-width="0.75"/>
<circle cx="561.70" cy="760.40" r="2.75" fill="#dee2dc" stroke="#4d4d4d" stroke-width="0.75"/>
<circle cx="570.70" cy="760.40" r="2.75" fill="#edd9dc" stroke="#4d4d4d" stroke-width="0.75"/>
<circle cx="579.70" cy="760.40" r="2.00" fill="#f4eced" stroke="#4d4d4d" stroke-width="0.75"/>
<circle cx="588.70" cy="760.40" r="2.75" fill="#ead3d6" stroke="#4d4d4d" stroke-width="0.75"/>
<circle cx="597.70" cy="760.40" r="1.25" fill="#dadcd8" stroke="#4d4d4d" stroke-width="0.75"/>
<circle cx="606.70" cy="760.40" r="3.50" fill="#dab5b9" stroke="#4d4d4d" stroke-width="0.75"/>
<circle cx="615.70" cy="760.40" r="3.50" fill="#d8b1b5" stroke="#4d4d4d" stroke-width="0.75"/>
<circle cx="561.70" cy="745.60" r="2.75" fill="#d5d9d2" stroke="#4d4d4d" stroke-width="0.75"/>
<circle cx="570.70" cy="745.60" r="1.75" fill="#f8f8f8" stroke="#4d4d4d" stroke-width="0.75"/>
<circle cx="579.70" cy="745.60" r="1.75" fill="#f8f8f8" stroke="#4d4d4d" stroke-width="0.75"/>
<circle cx="588.70" cy="745.60" r="2.75" fill="#ead0d3" stroke="#4d4d4d" stroke-width="0.75"/>
<circle cx="597.70" cy="745.60" r="1.75" fill="#f8f8f8" stroke="#4d4d4d" stroke-width="0.75"/>
<circle cx="615.70" cy="745.60" r="2.75" fill="#e8eae6" stroke="#4d4d4d" stroke-width="0.75"/>
<circle cx="561.70" cy="730.80" r="2.75" fill="#c9cfc6" stroke="#4d4d4d" stroke-width="0.75"/>
<circle cx="579.70" cy="730.80" r="2.00" fill="#f8f8f8" stroke="#4d4d4d" stroke-width="0.75"/>
<circle cx="588.70" cy="730.80" r="1.75" fill="#f8f8f8" stroke="#4d4d4d" stroke-width="0.75"/>
<circle cx="597.70" cy="730.80" r="2.75" fill="#e2e5e0" stroke="#4d4d4d" stroke-width="0.75"/>
<circle cx="615.70" cy="730.80" r="2.50" fill="#f0f1ef" stroke="#4d4d4d" stroke-width="0.75"/>
<circle cx="579.70" cy="716.00" r="1.75" fill="#f8f8f8" stroke="#4d4d4d" stroke-width="0.75"/>
<circle cx="588.70" cy="716.00" r="2.25" fill="#f2e4e6" stroke="#4d4d4d" stroke-width="0.75"/>
<circle cx="597.70" cy="716.00" r="2.00" fill="#f8f8f8" stroke="#4d4d4d" stroke-width="0.75"/>
<circle cx="615.70" cy="716.00" r="2.00" fill="#f8f8f8" stroke="#4d4d4d" stroke-width="0.75"/>
<circle cx="597.70" cy="701.20" r="3.75" fill="#d2aaae" stroke="#4d4d4d" stroke-width="0.75"/>
<circle cx="615.70" cy="701.20" r="3.25" fill="#c49299" stroke="#4d4d4d" stroke-width="0.75"/>
<circle cx="597.70" cy="686.40" r="3.25" fill="#ddbec1" stroke="#4d4d4d" stroke-width="0.75"/>
<rect x="481.20" y="678.80" width="188.40" height="178.50" fill="none" stroke="#626262" stroke-width="1.5"/>
<line x1="478.60" y1="849.20" x2="480.60" y2="849.20" stroke="#454545" stroke-width="1.0"/>
<text x="477.00" y="853.10" font-size="11" fill="#444444" stroke="#444444" stroke-width="0.08" text-anchor="end">0</text>
<line x1="478.60" y1="804.80" x2="480.60" y2="804.80" stroke="#454545" stroke-width="1.0"/>
<text x="477.00" y="808.70" font-size="11" fill="#444444" stroke="#444444" stroke-width="0.08" text-anchor="end">3</text>
<line x1="478.60" y1="760.40" x2="480.60" y2="760.40" stroke="#454545" stroke-width="1.0"/>
<text x="477.00" y="764.30" font-size="11" fill="#444444" stroke="#444444" stroke-width="0.08" text-anchor="end">6</text>
<line x1="478.60" y1="716.00" x2="480.60" y2="716.00" stroke="#454545" stroke-width="1.0"/>
<text x="477.00" y="719.90" font-size="11" fill="#444444" stroke="#444444" stroke-width="0.08" text-anchor="end">9</text>
<line x1="507.70" y1="857.90" x2="507.70" y2="860.40" stroke="#454545" stroke-width="1.0"/>
<text x="507.70" y="869.20" font-size="11" fill="#444444" stroke="#444444" stroke-width="0.08" text-anchor="middle">30</text>
<line x1="552.70" y1="857.90" x2="552.70" y2="860.40" stroke="#454545" stroke-width="1.0"/>
<text x="552.70" y="869.20" font-size="11" fill="#444444" stroke="#444444" stroke-width="0.08" text-anchor="middle">35</text>
<line x1="597.70" y1="857.90" x2="597.70" y2="860.40" stroke="#454545" stroke-width="1.0"/>
<text x="597.70" y="869.20" font-size="11" fill="#444444" stroke="#444444" stroke-width="0.08" text-anchor="middle">40</text>
<line x1="642.70" y1="857.90" x2="642.70" y2="860.40" stroke="#454545" stroke-width="1.0"/>
<text x="642.70" y="869.20" font-size="11" fill="#444444" stroke="#444444" stroke-width="0.08" text-anchor="middle">45</text>
<text x="574.90" y="882.20" font-size="11.4" fill="#1a1a1a" stroke="#1a1a1a" stroke-width="0.18" text-anchor="middle">length</text>
<text x="466.00" y="771.00" font-size="11.8" fill="#1a1a1a" stroke="#1a1a1a" stroke-width="0.12" text-anchor="middle" font-weight="bold" transform="rotate(-90 466.00 771.00)">double bonds</text>
<text x="579.60" y="622.20" font-size="11.6" fill="#1a1a1a" stroke="#1a1a1a" stroke-width="0.12" text-anchor="middle" font-weight="bold">PCs</text>
<defs><linearGradient id="gh" x1="0" y1="0" x2="1" y2="0"><stop offset="0.0000" stop-color="#66705f"/><stop offset="0.1700" stop-color="#aab1a6"/><stop offset="0.4100" stop-color="#ffffff"/><stop offset="0.6500" stop-color="#d6b3b7"/><stop offset="0.9000" stop-color="#8e3e4a"/><stop offset="1.0000" stop-color="#7a2b38"/></linearGradient></defs>
<rect x="494.10" y="645.30" width="72.70" height="14.30" fill="url(#gh)"/>
<line x1="506.40" y1="645.30" x2="506.40" y2="647.80" stroke="#ffffff" stroke-width="0.7"/>
<line x1="506.40" y1="657.10" x2="506.40" y2="659.60" stroke="#ffffff" stroke-width="0.7"/>
<line x1="523.90" y1="645.30" x2="523.90" y2="647.80" stroke="#ffffff" stroke-width="0.7"/>
<line x1="523.90" y1="657.10" x2="523.90" y2="659.60" stroke="#ffffff" stroke-width="0.7"/>
<line x1="541.40" y1="645.30" x2="541.40" y2="647.80" stroke="#ffffff" stroke-width="0.7"/>
<line x1="541.40" y1="657.10" x2="541.40" y2="659.60" stroke="#ffffff" stroke-width="0.7"/>
<line x1="558.90" y1="645.30" x2="558.90" y2="647.80" stroke="#ffffff" stroke-width="0.7"/>
<line x1="558.90" y1="657.10" x2="558.90" y2="659.60" stroke="#ffffff" stroke-width="0.7"/>
<text x="500.00" y="670.50" font-size="9.6" fill="#2a2a2a" stroke="#2a2a2a" stroke-width="0.08" text-anchor="middle">−0.5</text>
<text x="519.50" y="670.50" font-size="9.6" fill="#2a2a2a" stroke="#2a2a2a" stroke-width="0.08" text-anchor="middle">0</text>
<text x="538.70" y="670.50" font-size="9.6" fill="#2a2a2a" stroke="#2a2a2a" stroke-width="0.08" text-anchor="middle">0.5</text>
<text x="559.20" y="670.50" font-size="9.6" fill="#2a2a2a" stroke="#2a2a2a" stroke-width="0.08" text-anchor="middle">1</text>
<text x="508.90" y="639.40" font-size="10.6" fill="#1a1a1a" stroke="#1a1a1a" stroke-width="0.18"><tspan font-family="Liberation Serif">log</tspan><tspan font-family="Liberation Serif" font-size="6.57" dy="2.97">2</tspan><tspan dy="-2.97">(FC)</tspan></text>
<text x="597.60" y="644.00" font-size="10.6" fill="#1a1a1a" stroke="#1a1a1a" stroke-width="0.18"><tspan font-family="Liberation Serif" font-size="11.13">−log</tspan><tspan font-family="Liberation Serif" font-size="6.15" dy="3.50">10</tspan><tspan dy="-3.50">(adjust. P)</tspan></text>
<circle cx="609.10" cy="656.60" r="3.80" fill="#ffffff" stroke="#4d4d4d" stroke-width="0.7"/>
<text x="609.10" y="671.90" font-size="10" fill="#2a2a2a" stroke="#2a2a2a" stroke-width="0.08" text-anchor="middle">3</text>
<circle cx="623.30" cy="656.60" r="4.45" fill="#ffffff" stroke="#4d4d4d" stroke-width="0.7"/>
<text x="623.30" y="671.90" font-size="10" fill="#2a2a2a" stroke="#2a2a2a" stroke-width="0.08" text-anchor="middle">6</text>
<circle cx="637.90" cy="656.60" r="5.25" fill="#ffffff" stroke="#4d4d4d" stroke-width="0.7"/>
<text x="637.90" y="671.90" font-size="10" fill="#2a2a2a" stroke="#2a2a2a" stroke-width="0.08" text-anchor="middle">9</text>
<circle cx="652.40" cy="656.60" r="6.25" fill="#ffffff" stroke="#4d4d4d" stroke-width="0.7"/>
<text x="652.40" y="671.90" font-size="10" fill="#2a2a2a" stroke="#2a2a2a" stroke-width="0.08" text-anchor="middle">12</text>
</svg></body></html>
